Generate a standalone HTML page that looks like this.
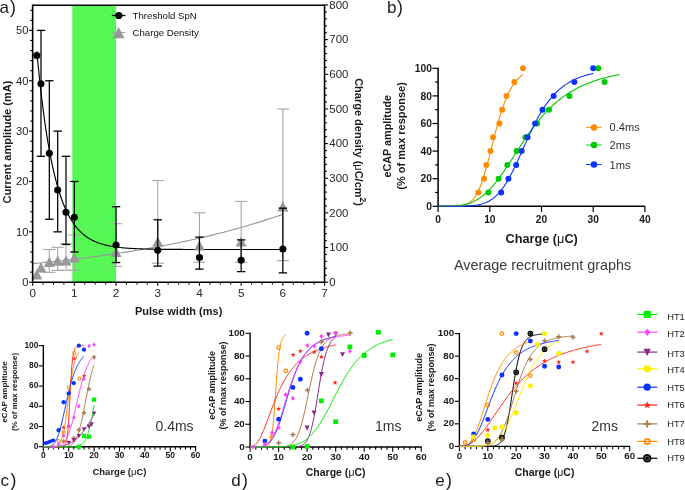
<!DOCTYPE html>
<html><head><meta charset="utf-8"><style>
html,body{margin:0;padding:0;background:#fff;}
svg{display:block;font-family:"Liberation Sans",sans-serif;will-change:transform;}
</style></head><body>
<svg width="685" height="490" viewBox="0 0 685 490">
<rect width="685" height="490" fill="#fff"/>
<rect x="72.3" y="5.3" width="43.75" height="276.9" fill="#55f855"/>
<polyline points="32.65,263.66 35.82,263.35 38.98,263.04 42.15,262.72 45.32,262.4 48.49,262.07 51.65,261.74 54.82,261.4 57.99,261.06 61.15,260.71 64.32,260.35 67.49,259.99 70.66,259.62 73.82,259.24 76.99,258.86 80.16,258.48 83.32,258.08 86.49,257.68 89.66,257.28 92.82,256.86 95.99,256.44 99.16,256.02 102.33,255.58 105.49,255.14 108.66,254.69 111.83,254.24 114.99,253.77 118.16,253.3 121.33,252.82 124.5,252.34 127.66,251.84 130.83,251.34 134,250.83 137.16,250.31 140.33,249.78 143.5,249.24 146.67,248.69 149.83,248.14 153,247.57 156.17,247 159.33,246.41 162.5,245.82 165.67,245.22 168.83,244.61 172,243.98 175.17,243.35 178.34,242.7 181.5,242.05 184.67,241.38 187.84,240.71 191,240.02 194.17,239.32 197.34,238.61 200.51,237.89 203.67,237.15 206.84,236.4 210.01,235.65 213.17,234.87 216.34,234.09 219.51,233.29 222.68,232.48 225.84,231.66 229.01,230.82 232.18,229.97 235.34,229.1 238.51,228.22 241.68,227.33 244.84,226.42 248.01,225.49 251.18,224.55 254.35,223.59 257.51,222.62 260.68,221.64 263.85,220.63 267.01,219.61 270.18,218.57 273.35,217.52 276.52,216.45 279.68,215.36 282.85,214.25" fill="none" stroke="#989898" stroke-width="1.1" stroke-linejoin="round"/>
<polyline points="36.82,51.33 38.37,67.57 39.91,82.49 41.46,96.17 43.01,108.74 44.56,120.28 46.1,130.87 47.65,140.59 49.2,149.52 50.75,157.71 52.29,165.24 53.84,172.14 55.39,178.48 56.94,184.31 58.48,189.65 60.03,194.55 61.58,199.06 63.13,203.19 64.67,206.99 66.22,210.47 67.77,213.67 69.31,216.61 70.86,219.31 72.41,221.78 73.96,224.05 75.5,226.14 77.05,228.05 78.6,229.81 80.15,231.43 81.69,232.91 83.24,234.27 84.79,235.52 86.34,236.66 87.88,237.72 89.43,238.68 90.98,239.57 92.52,240.38 94.07,241.13 95.62,241.82 97.17,242.45 98.71,243.03 100.26,243.56 101.81,244.05 103.36,244.49 104.9,244.9 106.45,245.28 108,245.63 109.55,245.95 111.09,246.24 112.64,246.51 114.19,246.75 115.74,246.98 117.28,247.18 118.83,247.37 120.38,247.55 121.92,247.71 123.47,247.86 125.02,247.99 126.57,248.12 128.11,248.23 129.66,248.33 131.21,248.43 132.76,248.52 134.3,248.6 135.85,248.67 137.4,248.74 138.95,248.8 140.49,248.86 142.04,248.92 143.59,248.96 145.14,249.01 146.68,249.05 148.23,249.09 149.78,249.12 151.32,249.15 152.87,249.18 154.42,249.21 155.97,249.23 157.51,249.25 159.06,249.28 160.61,249.29 162.16,249.31 163.7,249.33 165.25,249.34 166.8,249.36 168.35,249.37 169.89,249.38 171.44,249.39 172.99,249.4 174.53,249.41 176.08,249.42 177.63,249.42 179.18,249.43 180.72,249.44 182.27,249.44 183.82,249.45 185.37,249.45 186.91,249.46 188.46,249.46 190.01,249.46 191.56,249.47 193.1,249.47 194.65,249.47 196.2,249.48 197.75,249.48 199.29,249.48 200.84,249.48 202.39,249.49 203.93,249.49 205.48,249.49 207.03,249.49 208.58,249.49 210.12,249.49 211.67,249.49 213.22,249.49 214.77,249.5 216.31,249.5 217.86,249.5 219.41,249.5 220.96,249.5 222.5,249.5 224.05,249.5 225.6,249.5 227.15,249.5 228.69,249.5 230.24,249.5 231.79,249.5 233.33,249.5 234.88,249.5 236.43,249.5 237.98,249.5 239.52,249.5 241.07,249.5 242.62,249.5 244.17,249.5 245.71,249.5 247.26,249.5 248.81,249.5 250.36,249.5 251.9,249.5 253.45,249.51 255,249.51 256.54,249.51 258.09,249.51 259.64,249.51 261.19,249.51 262.73,249.51 264.28,249.51 265.83,249.51 267.38,249.51 268.92,249.51 270.47,249.51 272.02,249.51 273.57,249.51 275.11,249.51 276.66,249.51 278.21,249.51 279.76,249.51 281.3,249.51 282.85,249.51" fill="none" stroke="#000" stroke-width="1.15" stroke-linejoin="round"/>
<line x1="49.33" y1="249.5" x2="49.33" y2="272.3" stroke="#a6a6a6" stroke-width="1.1"/>
<line x1="43.23" y1="249.5" x2="55.43" y2="249.5" stroke="#a6a6a6" stroke-width="1.1"/>
<line x1="43.23" y1="272.3" x2="55.43" y2="272.3" stroke="#a6a6a6" stroke-width="1.1"/>
<line x1="57.67" y1="247.3" x2="57.67" y2="270.3" stroke="#a6a6a6" stroke-width="1.1"/>
<line x1="51.57" y1="247.3" x2="63.77" y2="247.3" stroke="#a6a6a6" stroke-width="1.1"/>
<line x1="51.57" y1="270.3" x2="63.77" y2="270.3" stroke="#a6a6a6" stroke-width="1.1"/>
<line x1="66.01" y1="243.8" x2="66.01" y2="270.3" stroke="#a6a6a6" stroke-width="1.1"/>
<line x1="59.91" y1="243.8" x2="72.11" y2="243.8" stroke="#a6a6a6" stroke-width="1.1"/>
<line x1="59.91" y1="270.3" x2="72.11" y2="270.3" stroke="#a6a6a6" stroke-width="1.1"/>
<line x1="74.35" y1="234.9" x2="74.35" y2="270.3" stroke="#a6a6a6" stroke-width="1.1"/>
<line x1="68.25" y1="234.9" x2="80.45" y2="234.9" stroke="#a6a6a6" stroke-width="1.1"/>
<line x1="68.25" y1="270.3" x2="80.45" y2="270.3" stroke="#a6a6a6" stroke-width="1.1"/>
<line x1="116.05" y1="223.7" x2="116.05" y2="266.4" stroke="#a6a6a6" stroke-width="1.1"/>
<line x1="109.95" y1="223.7" x2="122.15" y2="223.7" stroke="#a6a6a6" stroke-width="1.1"/>
<line x1="109.95" y1="266.4" x2="122.15" y2="266.4" stroke="#a6a6a6" stroke-width="1.1"/>
<line x1="157.75" y1="180.5" x2="157.75" y2="263.2" stroke="#a6a6a6" stroke-width="1.1"/>
<line x1="151.65" y1="180.5" x2="163.85" y2="180.5" stroke="#a6a6a6" stroke-width="1.1"/>
<line x1="151.65" y1="263.2" x2="163.85" y2="263.2" stroke="#a6a6a6" stroke-width="1.1"/>
<line x1="199.45" y1="212.8" x2="199.45" y2="262.3" stroke="#a6a6a6" stroke-width="1.1"/>
<line x1="193.35" y1="212.8" x2="205.55" y2="212.8" stroke="#a6a6a6" stroke-width="1.1"/>
<line x1="193.35" y1="262.3" x2="205.55" y2="262.3" stroke="#a6a6a6" stroke-width="1.1"/>
<line x1="241.15" y1="201.4" x2="241.15" y2="262.3" stroke="#a6a6a6" stroke-width="1.1"/>
<line x1="235.05" y1="201.4" x2="247.25" y2="201.4" stroke="#a6a6a6" stroke-width="1.1"/>
<line x1="235.05" y1="262.3" x2="247.25" y2="262.3" stroke="#a6a6a6" stroke-width="1.1"/>
<line x1="282.85" y1="109" x2="282.85" y2="260.6" stroke="#a6a6a6" stroke-width="1.1"/>
<line x1="276.75" y1="109" x2="288.95" y2="109" stroke="#a6a6a6" stroke-width="1.1"/>
<line x1="276.75" y1="260.6" x2="288.95" y2="260.6" stroke="#a6a6a6" stroke-width="1.1"/>
<polygon points="36.82,269.19 31.32,279.39 42.32,279.39" fill="#989898"/>
<polygon points="40.99,262.19 35.49,272.39 46.49,272.39" fill="#989898"/>
<polygon points="49.33,256.69 43.83,266.89 54.83,266.89" fill="#989898"/>
<polygon points="57.67,255.49 52.17,265.69 63.17,265.69" fill="#989898"/>
<polygon points="66.01,255.19 60.51,265.39 71.51,265.39" fill="#989898"/>
<polygon points="74.35,252.29 68.85,262.49 79.85,262.49" fill="#989898"/>
<polygon points="116.05,246.89 110.55,257.09 121.55,257.09" fill="#989898"/>
<polygon points="157.75,236.59 152.25,246.79 163.25,246.79" fill="#989898"/>
<polygon points="199.45,240.39 193.95,250.59 204.95,250.59" fill="#989898"/>
<polygon points="241.15,236.39 235.65,246.59 246.65,246.59" fill="#989898"/>
<polygon points="282.85,201.19 277.35,211.39 288.35,211.39" fill="#989898"/>
<line x1="40.99" y1="30.4" x2="40.99" y2="156.3" stroke="#000" stroke-width="1.25"/>
<line x1="36.79" y1="30.4" x2="45.19" y2="30.4" stroke="#000" stroke-width="1.3"/>
<line x1="36.79" y1="156.3" x2="45.19" y2="156.3" stroke="#000" stroke-width="1.3"/>
<line x1="49.33" y1="80.76" x2="49.33" y2="219.25" stroke="#000" stroke-width="1.25"/>
<line x1="45.13" y1="80.76" x2="53.53" y2="80.76" stroke="#000" stroke-width="1.3"/>
<line x1="45.13" y1="219.25" x2="53.53" y2="219.25" stroke="#000" stroke-width="1.3"/>
<line x1="57.67" y1="131.12" x2="57.67" y2="231.84" stroke="#000" stroke-width="1.25"/>
<line x1="53.47" y1="131.12" x2="61.87" y2="131.12" stroke="#000" stroke-width="1.3"/>
<line x1="53.47" y1="231.84" x2="61.87" y2="231.84" stroke="#000" stroke-width="1.3"/>
<line x1="66.01" y1="156.3" x2="66.01" y2="244.43" stroke="#000" stroke-width="1.25"/>
<line x1="61.81" y1="156.3" x2="70.21" y2="156.3" stroke="#000" stroke-width="1.3"/>
<line x1="61.81" y1="244.43" x2="70.21" y2="244.43" stroke="#000" stroke-width="1.3"/>
<line x1="74.35" y1="181.48" x2="74.35" y2="251.98" stroke="#000" stroke-width="1.25"/>
<line x1="70.15" y1="181.48" x2="78.55" y2="181.48" stroke="#000" stroke-width="1.3"/>
<line x1="70.15" y1="251.98" x2="78.55" y2="251.98" stroke="#000" stroke-width="1.3"/>
<line x1="116.05" y1="206.66" x2="116.05" y2="262.56" stroke="#000" stroke-width="1.25"/>
<line x1="111.85" y1="206.66" x2="120.25" y2="206.66" stroke="#000" stroke-width="1.3"/>
<line x1="111.85" y1="262.56" x2="120.25" y2="262.56" stroke="#000" stroke-width="1.3"/>
<line x1="157.75" y1="219.75" x2="157.75" y2="266.08" stroke="#000" stroke-width="1.25"/>
<line x1="153.55" y1="219.75" x2="161.95" y2="219.75" stroke="#000" stroke-width="1.3"/>
<line x1="153.55" y1="266.08" x2="161.95" y2="266.08" stroke="#000" stroke-width="1.3"/>
<line x1="199.45" y1="237.08" x2="199.45" y2="269.11" stroke="#000" stroke-width="1.25"/>
<line x1="195.25" y1="237.08" x2="203.65" y2="237.08" stroke="#000" stroke-width="1.3"/>
<line x1="195.25" y1="269.11" x2="203.65" y2="269.11" stroke="#000" stroke-width="1.3"/>
<line x1="241.15" y1="239.9" x2="241.15" y2="271.62" stroke="#000" stroke-width="1.25"/>
<line x1="236.95" y1="239.9" x2="245.35" y2="239.9" stroke="#000" stroke-width="1.3"/>
<line x1="236.95" y1="271.62" x2="245.35" y2="271.62" stroke="#000" stroke-width="1.3"/>
<line x1="282.85" y1="208.17" x2="282.85" y2="272.88" stroke="#000" stroke-width="1.25"/>
<line x1="278.65" y1="208.17" x2="287.05" y2="208.17" stroke="#000" stroke-width="1.3"/>
<line x1="278.65" y1="272.88" x2="287.05" y2="272.88" stroke="#000" stroke-width="1.3"/>
<circle cx="36.82" cy="55.58" r="3.55" fill="#000" stroke="none" stroke-width="0"/>
<circle cx="40.99" cy="83.78" r="3.55" fill="#000" stroke="none" stroke-width="0"/>
<circle cx="49.33" cy="153.28" r="3.55" fill="#000" stroke="none" stroke-width="0"/>
<circle cx="57.67" cy="190.04" r="3.55" fill="#000" stroke="none" stroke-width="0"/>
<circle cx="66.01" cy="212.2" r="3.55" fill="#000" stroke="none" stroke-width="0"/>
<circle cx="74.35" cy="217.24" r="3.55" fill="#000" stroke="none" stroke-width="0"/>
<circle cx="116.05" cy="244.93" r="3.55" fill="#000" stroke="none" stroke-width="0"/>
<circle cx="157.75" cy="250.22" r="3.55" fill="#000" stroke="none" stroke-width="0"/>
<circle cx="199.45" cy="257.52" r="3.55" fill="#000" stroke="none" stroke-width="0"/>
<circle cx="241.15" cy="260.19" r="3.55" fill="#000" stroke="none" stroke-width="0"/>
<circle cx="282.85" cy="248.96" r="3.55" fill="#000" stroke="none" stroke-width="0"/>
<line x1="32.65" y1="5.3" x2="324.55" y2="5.3" stroke="#000" stroke-width="1.5"/>
<line x1="32.65" y1="4.55" x2="32.65" y2="282.95" stroke="#000" stroke-width="1.6"/>
<line x1="324.55" y1="4.55" x2="324.55" y2="282.95" stroke="#000" stroke-width="1.6"/>
<line x1="32.65" y1="282.2" x2="324.55" y2="282.2" stroke="#000" stroke-width="1.6"/>
<line x1="29.05" y1="282.2" x2="32.65" y2="282.2" stroke="#000" stroke-width="1.1"/>
<line x1="30.25" y1="272.13" x2="32.65" y2="272.13" stroke="#000" stroke-width="1.1"/>
<line x1="30.25" y1="262.06" x2="32.65" y2="262.06" stroke="#000" stroke-width="1.1"/>
<line x1="30.25" y1="251.98" x2="32.65" y2="251.98" stroke="#000" stroke-width="1.1"/>
<line x1="30.25" y1="241.91" x2="32.65" y2="241.91" stroke="#000" stroke-width="1.1"/>
<line x1="29.05" y1="231.84" x2="32.65" y2="231.84" stroke="#000" stroke-width="1.1"/>
<line x1="30.25" y1="221.77" x2="32.65" y2="221.77" stroke="#000" stroke-width="1.1"/>
<line x1="30.25" y1="211.7" x2="32.65" y2="211.7" stroke="#000" stroke-width="1.1"/>
<line x1="30.25" y1="201.62" x2="32.65" y2="201.62" stroke="#000" stroke-width="1.1"/>
<line x1="30.25" y1="191.55" x2="32.65" y2="191.55" stroke="#000" stroke-width="1.1"/>
<line x1="29.05" y1="181.48" x2="32.65" y2="181.48" stroke="#000" stroke-width="1.1"/>
<line x1="30.25" y1="171.41" x2="32.65" y2="171.41" stroke="#000" stroke-width="1.1"/>
<line x1="30.25" y1="161.34" x2="32.65" y2="161.34" stroke="#000" stroke-width="1.1"/>
<line x1="30.25" y1="151.26" x2="32.65" y2="151.26" stroke="#000" stroke-width="1.1"/>
<line x1="30.25" y1="141.19" x2="32.65" y2="141.19" stroke="#000" stroke-width="1.1"/>
<line x1="29.05" y1="131.12" x2="32.65" y2="131.12" stroke="#000" stroke-width="1.1"/>
<line x1="30.25" y1="121.05" x2="32.65" y2="121.05" stroke="#000" stroke-width="1.1"/>
<line x1="30.25" y1="110.98" x2="32.65" y2="110.98" stroke="#000" stroke-width="1.1"/>
<line x1="30.25" y1="100.9" x2="32.65" y2="100.9" stroke="#000" stroke-width="1.1"/>
<line x1="30.25" y1="90.83" x2="32.65" y2="90.83" stroke="#000" stroke-width="1.1"/>
<line x1="29.05" y1="80.76" x2="32.65" y2="80.76" stroke="#000" stroke-width="1.1"/>
<line x1="30.25" y1="70.69" x2="32.65" y2="70.69" stroke="#000" stroke-width="1.1"/>
<line x1="30.25" y1="60.62" x2="32.65" y2="60.62" stroke="#000" stroke-width="1.1"/>
<line x1="30.25" y1="50.54" x2="32.65" y2="50.54" stroke="#000" stroke-width="1.1"/>
<line x1="30.25" y1="40.47" x2="32.65" y2="40.47" stroke="#000" stroke-width="1.1"/>
<line x1="29.05" y1="30.4" x2="32.65" y2="30.4" stroke="#000" stroke-width="1.1"/>
<line x1="30.25" y1="20.33" x2="32.65" y2="20.33" stroke="#000" stroke-width="1.1"/>
<line x1="30.25" y1="10.26" x2="32.65" y2="10.26" stroke="#000" stroke-width="1.1"/>
<text x="28.4" y="286.2" font-size="11.2" text-anchor="end" fill="#262626">0</text>
<text x="28.4" y="235.84" font-size="11.2" text-anchor="end" fill="#262626">10</text>
<text x="28.4" y="185.48" font-size="11.2" text-anchor="end" fill="#262626">20</text>
<text x="28.4" y="135.12" font-size="11.2" text-anchor="end" fill="#262626">30</text>
<text x="28.4" y="84.76" font-size="11.2" text-anchor="end" fill="#262626">40</text>
<text x="28.4" y="34.4" font-size="11.2" text-anchor="end" fill="#262626">50</text>
<line x1="324.55" y1="282.2" x2="328.15" y2="282.2" stroke="#000" stroke-width="1.1"/>
<line x1="324.55" y1="275.27" x2="326.95" y2="275.27" stroke="#000" stroke-width="1.1"/>
<line x1="324.55" y1="268.34" x2="326.95" y2="268.34" stroke="#000" stroke-width="1.1"/>
<line x1="324.55" y1="261.41" x2="326.95" y2="261.41" stroke="#000" stroke-width="1.1"/>
<line x1="324.55" y1="254.48" x2="326.95" y2="254.48" stroke="#000" stroke-width="1.1"/>
<line x1="324.55" y1="247.55" x2="328.15" y2="247.55" stroke="#000" stroke-width="1.1"/>
<line x1="324.55" y1="240.62" x2="326.95" y2="240.62" stroke="#000" stroke-width="1.1"/>
<line x1="324.55" y1="233.69" x2="326.95" y2="233.69" stroke="#000" stroke-width="1.1"/>
<line x1="324.55" y1="226.76" x2="326.95" y2="226.76" stroke="#000" stroke-width="1.1"/>
<line x1="324.55" y1="219.83" x2="326.95" y2="219.83" stroke="#000" stroke-width="1.1"/>
<line x1="324.55" y1="212.9" x2="328.15" y2="212.9" stroke="#000" stroke-width="1.1"/>
<line x1="324.55" y1="205.97" x2="326.95" y2="205.97" stroke="#000" stroke-width="1.1"/>
<line x1="324.55" y1="199.04" x2="326.95" y2="199.04" stroke="#000" stroke-width="1.1"/>
<line x1="324.55" y1="192.11" x2="326.95" y2="192.11" stroke="#000" stroke-width="1.1"/>
<line x1="324.55" y1="185.18" x2="326.95" y2="185.18" stroke="#000" stroke-width="1.1"/>
<line x1="324.55" y1="178.25" x2="328.15" y2="178.25" stroke="#000" stroke-width="1.1"/>
<line x1="324.55" y1="171.32" x2="326.95" y2="171.32" stroke="#000" stroke-width="1.1"/>
<line x1="324.55" y1="164.39" x2="326.95" y2="164.39" stroke="#000" stroke-width="1.1"/>
<line x1="324.55" y1="157.46" x2="326.95" y2="157.46" stroke="#000" stroke-width="1.1"/>
<line x1="324.55" y1="150.53" x2="326.95" y2="150.53" stroke="#000" stroke-width="1.1"/>
<line x1="324.55" y1="143.6" x2="328.15" y2="143.6" stroke="#000" stroke-width="1.1"/>
<line x1="324.55" y1="136.67" x2="326.95" y2="136.67" stroke="#000" stroke-width="1.1"/>
<line x1="324.55" y1="129.74" x2="326.95" y2="129.74" stroke="#000" stroke-width="1.1"/>
<line x1="324.55" y1="122.81" x2="326.95" y2="122.81" stroke="#000" stroke-width="1.1"/>
<line x1="324.55" y1="115.88" x2="326.95" y2="115.88" stroke="#000" stroke-width="1.1"/>
<line x1="324.55" y1="108.95" x2="328.15" y2="108.95" stroke="#000" stroke-width="1.1"/>
<line x1="324.55" y1="102.02" x2="326.95" y2="102.02" stroke="#000" stroke-width="1.1"/>
<line x1="324.55" y1="95.09" x2="326.95" y2="95.09" stroke="#000" stroke-width="1.1"/>
<line x1="324.55" y1="88.16" x2="326.95" y2="88.16" stroke="#000" stroke-width="1.1"/>
<line x1="324.55" y1="81.23" x2="326.95" y2="81.23" stroke="#000" stroke-width="1.1"/>
<line x1="324.55" y1="74.3" x2="328.15" y2="74.3" stroke="#000" stroke-width="1.1"/>
<line x1="324.55" y1="67.37" x2="326.95" y2="67.37" stroke="#000" stroke-width="1.1"/>
<line x1="324.55" y1="60.44" x2="326.95" y2="60.44" stroke="#000" stroke-width="1.1"/>
<line x1="324.55" y1="53.51" x2="326.95" y2="53.51" stroke="#000" stroke-width="1.1"/>
<line x1="324.55" y1="46.58" x2="326.95" y2="46.58" stroke="#000" stroke-width="1.1"/>
<line x1="324.55" y1="39.65" x2="328.15" y2="39.65" stroke="#000" stroke-width="1.1"/>
<line x1="324.55" y1="32.72" x2="326.95" y2="32.72" stroke="#000" stroke-width="1.1"/>
<line x1="324.55" y1="25.79" x2="326.95" y2="25.79" stroke="#000" stroke-width="1.1"/>
<line x1="324.55" y1="18.86" x2="326.95" y2="18.86" stroke="#000" stroke-width="1.1"/>
<line x1="324.55" y1="11.93" x2="326.95" y2="11.93" stroke="#000" stroke-width="1.1"/>
<line x1="324.55" y1="5" x2="328.15" y2="5" stroke="#000" stroke-width="1.1"/>
<text x="329.3" y="285.9" font-size="11.4" text-anchor="start" fill="#262626">0</text>
<text x="329.3" y="251.25" font-size="11.4" text-anchor="start" fill="#262626">100</text>
<text x="329.3" y="216.6" font-size="11.4" text-anchor="start" fill="#262626">200</text>
<text x="329.3" y="181.95" font-size="11.4" text-anchor="start" fill="#262626">300</text>
<text x="329.3" y="147.3" font-size="11.4" text-anchor="start" fill="#262626">400</text>
<text x="329.3" y="112.65" font-size="11.4" text-anchor="start" fill="#262626">500</text>
<text x="329.3" y="78" font-size="11.4" text-anchor="start" fill="#262626">600</text>
<text x="329.3" y="43.35" font-size="11.4" text-anchor="start" fill="#262626">700</text>
<text x="329.3" y="8.7" font-size="11.4" text-anchor="start" fill="#262626">800</text>
<line x1="32.65" y1="282.2" x2="32.65" y2="285.8" stroke="#000" stroke-width="1.1"/>
<line x1="43.08" y1="282.2" x2="43.08" y2="284.6" stroke="#000" stroke-width="1.1"/>
<line x1="53.5" y1="282.2" x2="53.5" y2="284.6" stroke="#000" stroke-width="1.1"/>
<line x1="63.92" y1="282.2" x2="63.92" y2="284.6" stroke="#000" stroke-width="1.1"/>
<line x1="74.35" y1="282.2" x2="74.35" y2="285.8" stroke="#000" stroke-width="1.1"/>
<line x1="84.78" y1="282.2" x2="84.78" y2="284.6" stroke="#000" stroke-width="1.1"/>
<line x1="95.2" y1="282.2" x2="95.2" y2="284.6" stroke="#000" stroke-width="1.1"/>
<line x1="105.62" y1="282.2" x2="105.62" y2="284.6" stroke="#000" stroke-width="1.1"/>
<line x1="116.05" y1="282.2" x2="116.05" y2="285.8" stroke="#000" stroke-width="1.1"/>
<line x1="126.47" y1="282.2" x2="126.47" y2="284.6" stroke="#000" stroke-width="1.1"/>
<line x1="136.9" y1="282.2" x2="136.9" y2="284.6" stroke="#000" stroke-width="1.1"/>
<line x1="147.33" y1="282.2" x2="147.33" y2="284.6" stroke="#000" stroke-width="1.1"/>
<line x1="157.75" y1="282.2" x2="157.75" y2="285.8" stroke="#000" stroke-width="1.1"/>
<line x1="168.18" y1="282.2" x2="168.18" y2="284.6" stroke="#000" stroke-width="1.1"/>
<line x1="178.6" y1="282.2" x2="178.6" y2="284.6" stroke="#000" stroke-width="1.1"/>
<line x1="189.03" y1="282.2" x2="189.03" y2="284.6" stroke="#000" stroke-width="1.1"/>
<line x1="199.45" y1="282.2" x2="199.45" y2="285.8" stroke="#000" stroke-width="1.1"/>
<line x1="209.88" y1="282.2" x2="209.88" y2="284.6" stroke="#000" stroke-width="1.1"/>
<line x1="220.3" y1="282.2" x2="220.3" y2="284.6" stroke="#000" stroke-width="1.1"/>
<line x1="230.73" y1="282.2" x2="230.73" y2="284.6" stroke="#000" stroke-width="1.1"/>
<line x1="241.15" y1="282.2" x2="241.15" y2="285.8" stroke="#000" stroke-width="1.1"/>
<line x1="251.58" y1="282.2" x2="251.58" y2="284.6" stroke="#000" stroke-width="1.1"/>
<line x1="262" y1="282.2" x2="262" y2="284.6" stroke="#000" stroke-width="1.1"/>
<line x1="272.43" y1="282.2" x2="272.43" y2="284.6" stroke="#000" stroke-width="1.1"/>
<line x1="282.85" y1="282.2" x2="282.85" y2="285.8" stroke="#000" stroke-width="1.1"/>
<line x1="293.27" y1="282.2" x2="293.27" y2="284.6" stroke="#000" stroke-width="1.1"/>
<line x1="303.7" y1="282.2" x2="303.7" y2="284.6" stroke="#000" stroke-width="1.1"/>
<line x1="314.12" y1="282.2" x2="314.12" y2="284.6" stroke="#000" stroke-width="1.1"/>
<line x1="324.55" y1="282.2" x2="324.55" y2="285.8" stroke="#000" stroke-width="1.1"/>
<text x="32.65" y="296.7" font-size="11.7" text-anchor="middle" fill="#262626">0</text>
<text x="74.35" y="296.7" font-size="11.7" text-anchor="middle" fill="#262626">1</text>
<text x="116.05" y="296.7" font-size="11.7" text-anchor="middle" fill="#262626">2</text>
<text x="157.75" y="296.7" font-size="11.7" text-anchor="middle" fill="#262626">3</text>
<text x="199.45" y="296.7" font-size="11.7" text-anchor="middle" fill="#262626">4</text>
<text x="241.15" y="296.7" font-size="11.7" text-anchor="middle" fill="#262626">5</text>
<text x="282.85" y="296.7" font-size="11.7" text-anchor="middle" fill="#262626">6</text>
<text x="324.55" y="296.7" font-size="11.7" text-anchor="middle" fill="#262626">7</text>
<text x="178.6" y="314.8" font-size="11" text-anchor="middle" font-weight="bold" fill="#1a1a1a">Pulse width (ms)</text>
<text x="10.9" y="142.1" font-size="11" text-anchor="middle" font-weight="bold" fill="#1a1a1a" transform="rotate(-90 10.9 142.1)">Current amplitude (mA)</text>
<text x="355.3" y="142.1" font-size="11" text-anchor="middle" font-weight="bold" fill="#1a1a1a" transform="rotate(90 355.3 142.1)">Charge density (<tspan font-weight="normal">μ</tspan>C/cm<tspan font-size="8.6" dy="-4.2">2</tspan><tspan dy="4.2">)</tspan></text>
<text x="-0.5" y="12.9" font-size="17" text-anchor="start" fill="#1a1a1a">a<tspan dx="1.1" font-size="17.8">)</tspan></text>
<line x1="111.8" y1="15.5" x2="125.3" y2="15.5" stroke="#000" stroke-width="1.3"/>
<circle cx="118.8" cy="15.5" r="3.6" fill="#000" stroke="none" stroke-width="0"/>
<line x1="112" y1="32.5" x2="125.3" y2="32.5" stroke="#a6a6a6" stroke-width="1.1"/>
<polygon points="118.6,26.93 112.6,38.33 124.6,38.33" fill="#989898"/>
<text x="132.6" y="19" font-size="9.65" text-anchor="start" fill="#111">Threshold SpN</text>
<text x="132.6" y="36.1" font-size="9.6" text-anchor="start" fill="#111">Charge Density</text>
<line x1="438.1" y1="67.7" x2="438.1" y2="206.9" stroke="#000" stroke-width="1.5"/>
<line x1="438.1" y1="206.3" x2="644.9" y2="206.3" stroke="#000" stroke-width="1.5"/>
<line x1="432.5" y1="206.3" x2="438.1" y2="206.3" stroke="#000" stroke-width="1.2"/>
<line x1="435.1" y1="192.5" x2="438.1" y2="192.5" stroke="#000" stroke-width="1.2"/>
<line x1="432.5" y1="178.7" x2="438.1" y2="178.7" stroke="#000" stroke-width="1.2"/>
<line x1="435.1" y1="164.9" x2="438.1" y2="164.9" stroke="#000" stroke-width="1.2"/>
<line x1="432.5" y1="151.1" x2="438.1" y2="151.1" stroke="#000" stroke-width="1.2"/>
<line x1="435.1" y1="137.3" x2="438.1" y2="137.3" stroke="#000" stroke-width="1.2"/>
<line x1="432.5" y1="123.5" x2="438.1" y2="123.5" stroke="#000" stroke-width="1.2"/>
<line x1="435.1" y1="109.7" x2="438.1" y2="109.7" stroke="#000" stroke-width="1.2"/>
<line x1="432.5" y1="95.9" x2="438.1" y2="95.9" stroke="#000" stroke-width="1.2"/>
<line x1="435.1" y1="82.1" x2="438.1" y2="82.1" stroke="#000" stroke-width="1.2"/>
<line x1="432.5" y1="68.3" x2="438.1" y2="68.3" stroke="#000" stroke-width="1.2"/>
<text x="432" y="210" font-size="10.3" text-anchor="end" font-weight="bold" fill="#1a1a1a">0</text>
<text x="432" y="182.4" font-size="10.3" text-anchor="end" font-weight="bold" fill="#1a1a1a">20</text>
<text x="432" y="154.8" font-size="10.3" text-anchor="end" font-weight="bold" fill="#1a1a1a">40</text>
<text x="432" y="127.2" font-size="10.3" text-anchor="end" font-weight="bold" fill="#1a1a1a">60</text>
<text x="432" y="99.6" font-size="10.3" text-anchor="end" font-weight="bold" fill="#1a1a1a">80</text>
<text x="432" y="72" font-size="10.3" text-anchor="end" font-weight="bold" fill="#1a1a1a">100</text>
<line x1="438.1" y1="206.3" x2="438.1" y2="211.9" stroke="#000" stroke-width="1.2"/>
<line x1="489.8" y1="206.3" x2="489.8" y2="211.9" stroke="#000" stroke-width="1.2"/>
<line x1="541.5" y1="206.3" x2="541.5" y2="211.9" stroke="#000" stroke-width="1.2"/>
<line x1="593.2" y1="206.3" x2="593.2" y2="211.9" stroke="#000" stroke-width="1.2"/>
<line x1="644.9" y1="206.3" x2="644.9" y2="211.9" stroke="#000" stroke-width="1.2"/>
<text x="438.1" y="222.6" font-size="10.2" text-anchor="middle" font-weight="bold" fill="#1a1a1a">0</text>
<text x="489.8" y="222.6" font-size="10.2" text-anchor="middle" font-weight="bold" fill="#1a1a1a">10</text>
<text x="541.5" y="222.6" font-size="10.2" text-anchor="middle" font-weight="bold" fill="#1a1a1a">20</text>
<text x="593.2" y="222.6" font-size="10.2" text-anchor="middle" font-weight="bold" fill="#1a1a1a">30</text>
<text x="644.9" y="222.6" font-size="10.2" text-anchor="middle" font-weight="bold" fill="#1a1a1a">40</text>
<polyline points="438.11,206.3 438.53,206.3 438.96,206.3 439.38,206.3 439.81,206.3 440.24,206.3 440.66,206.3 441.09,206.3 441.52,206.3 441.94,206.3 442.37,206.3 442.8,206.3 443.22,206.3 443.65,206.3 444.08,206.3 444.5,206.3 444.93,206.3 445.36,206.3 445.78,206.3 446.21,206.3 446.64,206.3 447.06,206.3 447.49,206.3 447.92,206.3 448.34,206.3 448.77,206.3 449.2,206.29 449.62,206.29 450.05,206.29 450.48,206.29 450.9,206.28 451.33,206.28 451.76,206.28 452.18,206.27 452.61,206.27 453.03,206.26 453.46,206.25 453.89,206.24 454.31,206.23 454.74,206.22 455.17,206.21 455.59,206.2 456.02,206.18 456.45,206.16 456.87,206.14 457.3,206.12 457.73,206.09 458.15,206.06 458.58,206.03 459.01,205.99 459.43,205.95 459.86,205.9 460.29,205.85 460.71,205.8 461.14,205.74 461.57,205.67 461.99,205.6 462.42,205.52 462.85,205.43 463.27,205.33 463.7,205.23 464.13,205.12 464.55,204.99 464.98,204.86 465.41,204.71 465.83,204.56 466.26,204.39 466.68,204.21 467.11,204.01 467.54,203.8 467.96,203.57 468.39,203.33 468.82,203.07 469.24,202.79 469.67,202.49 470.1,202.17 470.52,201.83 470.95,201.47 471.38,201.09 471.8,200.68 472.23,200.25 472.66,199.79 473.08,199.3 473.51,198.79 473.94,198.25 474.36,197.68 474.79,197.08 475.22,196.45 475.64,195.78 476.07,195.08 476.5,194.35 476.92,193.59 477.35,192.79 477.78,191.95 478.2,191.08 478.63,190.18 479.06,189.23 479.48,188.25 479.91,187.23 480.34,186.18 480.76,185.09 481.19,183.96 481.61,182.79 482.04,181.59 482.47,180.35 482.89,179.08 483.32,177.78 483.75,176.44 484.17,175.06 484.6,173.66 485.03,172.22 485.45,170.76 485.88,169.26 486.31,167.75 486.73,166.2 487.16,164.64 487.59,163.05 488.01,161.44 488.44,159.81 488.87,158.17 489.29,156.52 489.72,154.85 490.15,153.17 490.57,151.49 491,149.79 491.43,148.1 491.85,146.4 492.28,144.7 492.71,143.01 493.13,141.32 493.56,139.63 493.99,137.95 494.41,136.28 494.84,134.62 495.26,132.98 495.69,131.35 496.12,129.73 496.54,128.13 496.97,126.55 497.4,124.99 497.82,123.45 498.25,121.93 498.68,120.44 499.1,118.96 499.53,117.51 499.96,116.09 500.38,114.69 500.81,113.32 501.24,111.97 501.66,110.65 502.09,109.36 502.52,108.09 502.94,106.85 503.37,105.64 503.8,104.46 504.22,103.3 504.65,102.17 505.08,101.07 505.5,100 505.93,98.95 506.36,97.93 506.78,96.93 507.21,95.96 507.64,95.02 508.06,94.1 508.49,93.21 508.91,92.34 509.34,91.5 509.77,90.67 510.19,89.88 510.62,89.1 511.05,88.35 511.47,87.61 511.9,86.9 512.33,86.21 512.75,85.54 513.18,84.89 513.61,84.26 514.03,83.65 514.46,83.06 514.89,82.48 515.31,81.92 515.74,81.38 516.17,80.85 516.59,80.34 517.02,79.85 517.45,79.37 517.87,78.91 518.3,78.46 518.73,78.02 519.15,77.6 519.58,77.19 520.01,76.79 520.43,76.41 520.86,76.03 521.29,75.67 521.71,75.32 522.14,74.98 522.56,74.65 522.99,74.33" fill="none" stroke="#ff8c00" stroke-width="1.1" stroke-linejoin="round"/>
<polyline points="438.11,206.3 439.02,206.3 439.93,206.3 440.84,206.3 441.75,206.3 442.66,206.3 443.58,206.29 444.49,206.29 445.4,206.28 446.31,206.28 447.22,206.26 448.14,206.25 449.05,206.23 449.96,206.21 450.87,206.18 451.78,206.14 452.7,206.1 453.61,206.05 454.52,206 455.43,205.93 456.34,205.86 457.25,205.77 458.17,205.68 459.08,205.57 459.99,205.45 460.9,205.31 461.81,205.16 462.73,205 463.64,204.81 464.55,204.61 465.46,204.4 466.37,204.16 467.28,203.9 468.2,203.62 469.11,203.32 470.02,203 470.93,202.66 471.84,202.29 472.76,201.89 473.67,201.47 474.58,201.02 475.49,200.55 476.4,200.05 477.32,199.52 478.23,198.96 479.14,198.37 480.05,197.75 480.96,197.1 481.87,196.42 482.79,195.71 483.7,194.97 484.61,194.2 485.52,193.39 486.43,192.56 487.35,191.69 488.26,190.8 489.17,189.87 490.08,188.92 490.99,187.93 491.91,186.92 492.82,185.87 493.73,184.8 494.64,183.7 495.55,182.58 496.46,181.43 497.38,180.25 498.29,179.05 499.2,177.83 500.11,176.59 501.02,175.33 501.94,174.04 502.85,172.74 503.76,171.42 504.67,170.09 505.58,168.74 506.5,167.38 507.41,166.01 508.32,164.63 509.23,163.24 510.14,161.84 511.05,160.43 511.97,159.02 512.88,157.61 513.79,156.19 514.7,154.78 515.61,153.36 516.53,151.94 517.44,150.53 518.35,149.12 519.26,147.72 520.17,146.32 521.09,144.92 522,143.54 522.91,142.16 523.82,140.8 524.73,139.44 525.64,138.1 526.56,136.76 527.47,135.44 528.38,134.14 529.29,132.84 530.2,131.57 531.12,130.3 532.03,129.06 532.94,127.82 533.85,126.61 534.76,125.41 535.68,124.23 536.59,123.06 537.5,121.92 538.41,120.79 539.32,119.67 540.23,118.58 541.15,117.5 542.06,116.45 542.97,115.41 543.88,114.38 544.79,113.38 545.71,112.4 546.62,111.43 547.53,110.48 548.44,109.55 549.35,108.63 550.26,107.74 551.18,106.86 552.09,105.99 553,105.15 553.91,104.32 554.82,103.51 555.74,102.72 556.65,101.94 557.56,101.17 558.47,100.43 559.38,99.7 560.3,98.98 561.21,98.28 562.12,97.6 563.03,96.92 563.94,96.27 564.85,95.62 565.77,95 566.68,94.38 567.59,93.78 568.5,93.19 569.41,92.61 570.33,92.05 571.24,91.5 572.15,90.96 573.06,90.43 573.97,89.92 574.89,89.42 575.8,88.92 576.71,88.44 577.62,87.97 578.53,87.51 579.44,87.06 580.36,86.62 581.27,86.19 582.18,85.77 583.09,85.35 584,84.95 584.92,84.56 585.83,84.17 586.74,83.79 587.65,83.43 588.56,83.07 589.48,82.71 590.39,82.37 591.3,82.03 592.21,81.7 593.12,81.38 594.03,81.06 594.95,80.76 595.86,80.45 596.77,80.16 597.68,79.87 598.59,79.59 599.51,79.31 600.42,79.04 601.33,78.78 602.24,78.52 603.15,78.26 604.07,78.02 604.98,77.77 605.89,77.54 606.8,77.3 607.71,77.08 608.62,76.85 609.54,76.63 610.45,76.42 611.36,76.21 612.27,76.01 613.18,75.81 614.1,75.61 615.01,75.42 615.92,75.23 616.83,75.05 617.74,74.87 618.66,74.69 619.57,74.52" fill="none" stroke="#00c800" stroke-width="1.1" stroke-linejoin="round"/>
<polyline points="438.11,206.3 438.88,206.3 439.66,206.3 440.44,206.3 441.22,206.3 442,206.3 442.78,206.3 443.56,206.3 444.34,206.3 445.12,206.3 445.9,206.3 446.68,206.3 447.46,206.3 448.24,206.3 449.02,206.3 449.8,206.3 450.58,206.3 451.35,206.3 452.13,206.3 452.91,206.29 453.69,206.29 454.47,206.29 455.25,206.29 456.03,206.29 456.81,206.28 457.59,206.28 458.37,206.27 459.15,206.26 459.93,206.26 460.71,206.25 461.49,206.23 462.27,206.22 463.05,206.2 463.82,206.19 464.6,206.17 465.38,206.14 466.16,206.11 466.94,206.08 467.72,206.05 468.5,206.01 469.28,205.96 470.06,205.91 470.84,205.86 471.62,205.79 472.4,205.72 473.18,205.65 473.96,205.56 474.74,205.46 475.51,205.36 476.29,205.24 477.07,205.12 477.85,204.98 478.63,204.83 479.41,204.66 480.19,204.48 480.97,204.29 481.75,204.07 482.53,203.84 483.31,203.59 484.09,203.32 484.87,203.03 485.65,202.72 486.43,202.39 487.21,202.03 487.98,201.64 488.76,201.23 489.54,200.79 490.32,200.33 491.1,199.83 491.88,199.3 492.66,198.74 493.44,198.14 494.22,197.51 495,196.85 495.78,196.15 496.56,195.41 497.34,194.63 498.12,193.82 498.9,192.96 499.68,192.07 500.45,191.13 501.23,190.16 502.01,189.14 502.79,188.08 503.57,186.98 504.35,185.84 505.13,184.66 505.91,183.44 506.69,182.18 507.47,180.88 508.25,179.54 509.03,178.16 509.81,176.75 510.59,175.3 511.37,173.82 512.15,172.31 512.92,170.76 513.7,169.19 514.48,167.59 515.26,165.96 516.04,164.32 516.82,162.65 517.6,160.96 518.38,159.26 519.16,157.55 519.94,155.82 520.72,154.08 521.5,152.34 522.28,150.59 523.06,148.84 523.84,147.09 524.62,145.34 525.39,143.6 526.17,141.87 526.95,140.14 527.73,138.43 528.51,136.72 529.29,135.03 530.07,133.36 530.85,131.71 531.63,130.08 532.41,128.46 533.19,126.87 533.97,125.3 534.75,123.76 535.53,122.24 536.31,120.75 537.09,119.29 537.86,117.85 538.64,116.44 539.42,115.06 540.2,113.71 540.98,112.39 541.76,111.09 542.54,109.83 543.32,108.6 544.1,107.4 544.88,106.22 545.66,105.08 546.44,103.96 547.22,102.88 548,101.82 548.78,100.79 549.56,99.79 550.33,98.82 551.11,97.87 551.89,96.95 552.67,96.06 553.45,95.19 554.23,94.35 555.01,93.53 555.79,92.74 556.57,91.97 557.35,91.23 558.13,90.5 558.91,89.8 559.69,89.12 560.47,88.46 561.25,87.82 562.03,87.21 562.8,86.61 563.58,86.03 564.36,85.46 565.14,84.92 565.92,84.39 566.7,83.88 567.48,83.38 568.26,82.9 569.04,82.44 569.82,81.99 570.6,81.56 571.38,81.13 572.16,80.73 572.94,80.33 573.72,79.95 574.5,79.58 575.27,79.22 576.05,78.87 576.83,78.54 577.61,78.21 578.39,77.9 579.17,77.59 579.95,77.3 580.73,77.01 581.51,76.73 582.29,76.47 583.07,76.21 583.85,75.95 584.63,75.71 585.41,75.47 586.19,75.24 586.97,75.02 587.74,74.81 588.52,74.6 589.3,74.4 590.08,74.2 590.86,74.01 591.64,73.83 592.42,73.65 593.2,73.48" fill="none" stroke="#0a32ff" stroke-width="1.1" stroke-linejoin="round"/>
<circle cx="478.32" cy="192.5" r="3" fill="#ff8c00" stroke="none" stroke-width="0"/>
<circle cx="484.01" cy="178.7" r="3" fill="#ff8c00" stroke="none" stroke-width="0"/>
<circle cx="486.39" cy="164.9" r="3" fill="#ff8c00" stroke="none" stroke-width="0"/>
<circle cx="490.52" cy="151.1" r="3" fill="#ff8c00" stroke="none" stroke-width="0"/>
<circle cx="493.01" cy="137.3" r="3" fill="#ff8c00" stroke="none" stroke-width="0"/>
<circle cx="499.42" cy="123.5" r="3" fill="#ff8c00" stroke="none" stroke-width="0"/>
<circle cx="502.21" cy="109.7" r="3" fill="#ff8c00" stroke="none" stroke-width="0"/>
<circle cx="506.5" cy="95.9" r="3" fill="#ff8c00" stroke="none" stroke-width="0"/>
<circle cx="514.41" cy="82.1" r="3" fill="#ff8c00" stroke="none" stroke-width="0"/>
<circle cx="522.99" cy="68.3" r="3" fill="#ff8c00" stroke="none" stroke-width="0"/>
<circle cx="488.4" cy="192.5" r="3" fill="#00c800" stroke="none" stroke-width="0"/>
<circle cx="498.59" cy="178.7" r="3" fill="#00c800" stroke="none" stroke-width="0"/>
<circle cx="507.38" cy="164.9" r="3" fill="#00c800" stroke="none" stroke-width="0"/>
<circle cx="516.68" cy="151.1" r="3" fill="#00c800" stroke="none" stroke-width="0"/>
<circle cx="525.47" cy="137.3" r="3" fill="#00c800" stroke="none" stroke-width="0"/>
<circle cx="537.11" cy="123.5" r="3" fill="#00c800" stroke="none" stroke-width="0"/>
<circle cx="549" cy="109.7" r="3" fill="#00c800" stroke="none" stroke-width="0"/>
<circle cx="569.42" cy="95.9" r="3" fill="#00c800" stroke="none" stroke-width="0"/>
<circle cx="604.57" cy="82.1" r="3" fill="#00c800" stroke="none" stroke-width="0"/>
<circle cx="598.37" cy="68.3" r="3" fill="#00c800" stroke="none" stroke-width="0"/>
<circle cx="501.17" cy="192.5" r="3" fill="#0a32ff" stroke="none" stroke-width="0"/>
<circle cx="508.41" cy="178.7" r="3" fill="#0a32ff" stroke="none" stroke-width="0"/>
<circle cx="516.17" cy="164.9" r="3" fill="#0a32ff" stroke="none" stroke-width="0"/>
<circle cx="521.6" cy="151.1" r="3" fill="#0a32ff" stroke="none" stroke-width="0"/>
<circle cx="527.54" cy="137.3" r="3" fill="#0a32ff" stroke="none" stroke-width="0"/>
<circle cx="535.09" cy="123.5" r="3" fill="#0a32ff" stroke="none" stroke-width="0"/>
<circle cx="542.53" cy="109.7" r="3" fill="#0a32ff" stroke="none" stroke-width="0"/>
<circle cx="553.7" cy="95.9" r="3" fill="#0a32ff" stroke="none" stroke-width="0"/>
<circle cx="574.38" cy="82.1" r="3" fill="#0a32ff" stroke="none" stroke-width="0"/>
<circle cx="593.2" cy="68.3" r="3" fill="#0a32ff" stroke="none" stroke-width="0"/>
<text x="541.7" y="242.7" font-size="12.7" text-anchor="middle" font-weight="bold" fill="#1a1a1a">Charge (<tspan font-weight="normal">μ</tspan>C)</text>
<text x="391.3" y="136.2" font-size="10.8" text-anchor="middle" font-weight="bold" fill="#1a1a1a" transform="rotate(-90 391.3 136.2)">eCAP amplitude</text>
<text x="405.5" y="135.9" font-size="11" text-anchor="middle" font-weight="bold" fill="#1a1a1a" transform="rotate(-90 405.5 135.9)">(% of max response)</text>
<text x="387" y="12.9" font-size="17" text-anchor="start" fill="#1a1a1a">b<tspan dx="0.5" font-size="17.8">)</tspan></text>
<text x="453.9" y="269.7" font-size="14.4" text-anchor="start" fill="#3a3a3a">Average recruitment graphs</text>
<line x1="586" y1="127.4" x2="601.7" y2="127.4" stroke="#ff8c00" stroke-width="1"/>
<circle cx="594" cy="127.4" r="3.25" fill="#ff8c00" stroke="none" stroke-width="0"/>
<text x="609.6" y="131.4" font-size="11.1" text-anchor="start" fill="#333">0.4ms</text>
<line x1="586" y1="145" x2="601.7" y2="145" stroke="#00c800" stroke-width="1"/>
<circle cx="594" cy="145" r="3.25" fill="#00c800" stroke="none" stroke-width="0"/>
<text x="609.6" y="149" font-size="11.1" text-anchor="start" fill="#333">2ms</text>
<line x1="586" y1="164.6" x2="601.7" y2="164.6" stroke="#0a32ff" stroke-width="1"/>
<circle cx="594" cy="164.6" r="3.25" fill="#0a32ff" stroke="none" stroke-width="0"/>
<text x="609.6" y="168.6" font-size="11.1" text-anchor="start" fill="#333">1ms</text>
<line x1="43.35" y1="345.05" x2="43.35" y2="447.35" stroke="#000" stroke-width="1.4"/>
<line x1="43.35" y1="446.75" x2="196.13" y2="446.75" stroke="#000" stroke-width="1.4"/>
<line x1="38.75" y1="446.75" x2="43.35" y2="446.75" stroke="#000" stroke-width="1.1"/>
<line x1="38.75" y1="426.53" x2="43.35" y2="426.53" stroke="#000" stroke-width="1.1"/>
<line x1="38.75" y1="406.31" x2="43.35" y2="406.31" stroke="#000" stroke-width="1.1"/>
<line x1="38.75" y1="386.09" x2="43.35" y2="386.09" stroke="#000" stroke-width="1.1"/>
<line x1="38.75" y1="365.87" x2="43.35" y2="365.87" stroke="#000" stroke-width="1.1"/>
<line x1="38.75" y1="345.65" x2="43.35" y2="345.65" stroke="#000" stroke-width="1.1"/>
<line x1="43.35" y1="446.75" x2="43.35" y2="451.55" stroke="#000" stroke-width="1.1"/>
<line x1="48.43" y1="446.75" x2="48.43" y2="449.55" stroke="#000" stroke-width="1.1"/>
<line x1="53.5" y1="446.75" x2="53.5" y2="449.55" stroke="#000" stroke-width="1.1"/>
<line x1="58.58" y1="446.75" x2="58.58" y2="449.55" stroke="#000" stroke-width="1.1"/>
<line x1="63.65" y1="446.75" x2="63.65" y2="449.55" stroke="#000" stroke-width="1.1"/>
<line x1="68.73" y1="446.75" x2="68.73" y2="451.55" stroke="#000" stroke-width="1.1"/>
<line x1="73.81" y1="446.75" x2="73.81" y2="449.55" stroke="#000" stroke-width="1.1"/>
<line x1="78.88" y1="446.75" x2="78.88" y2="449.55" stroke="#000" stroke-width="1.1"/>
<line x1="83.96" y1="446.75" x2="83.96" y2="449.55" stroke="#000" stroke-width="1.1"/>
<line x1="89.03" y1="446.75" x2="89.03" y2="449.55" stroke="#000" stroke-width="1.1"/>
<line x1="94.11" y1="446.75" x2="94.11" y2="451.55" stroke="#000" stroke-width="1.1"/>
<line x1="99.19" y1="446.75" x2="99.19" y2="449.55" stroke="#000" stroke-width="1.1"/>
<line x1="104.26" y1="446.75" x2="104.26" y2="449.55" stroke="#000" stroke-width="1.1"/>
<line x1="109.34" y1="446.75" x2="109.34" y2="449.55" stroke="#000" stroke-width="1.1"/>
<line x1="114.41" y1="446.75" x2="114.41" y2="449.55" stroke="#000" stroke-width="1.1"/>
<line x1="119.49" y1="446.75" x2="119.49" y2="451.55" stroke="#000" stroke-width="1.1"/>
<line x1="124.57" y1="446.75" x2="124.57" y2="449.55" stroke="#000" stroke-width="1.1"/>
<line x1="129.64" y1="446.75" x2="129.64" y2="449.55" stroke="#000" stroke-width="1.1"/>
<line x1="134.72" y1="446.75" x2="134.72" y2="449.55" stroke="#000" stroke-width="1.1"/>
<line x1="139.79" y1="446.75" x2="139.79" y2="449.55" stroke="#000" stroke-width="1.1"/>
<line x1="144.87" y1="446.75" x2="144.87" y2="451.55" stroke="#000" stroke-width="1.1"/>
<line x1="149.95" y1="446.75" x2="149.95" y2="449.55" stroke="#000" stroke-width="1.1"/>
<line x1="155.02" y1="446.75" x2="155.02" y2="449.55" stroke="#000" stroke-width="1.1"/>
<line x1="160.1" y1="446.75" x2="160.1" y2="449.55" stroke="#000" stroke-width="1.1"/>
<line x1="165.17" y1="446.75" x2="165.17" y2="449.55" stroke="#000" stroke-width="1.1"/>
<line x1="170.25" y1="446.75" x2="170.25" y2="451.55" stroke="#000" stroke-width="1.1"/>
<line x1="175.33" y1="446.75" x2="175.33" y2="449.55" stroke="#000" stroke-width="1.1"/>
<line x1="180.4" y1="446.75" x2="180.4" y2="449.55" stroke="#000" stroke-width="1.1"/>
<line x1="185.48" y1="446.75" x2="185.48" y2="449.55" stroke="#000" stroke-width="1.1"/>
<line x1="190.55" y1="446.75" x2="190.55" y2="449.55" stroke="#000" stroke-width="1.1"/>
<line x1="195.63" y1="446.75" x2="195.63" y2="451.55" stroke="#000" stroke-width="1.1"/>
<text x="38.45" y="448.82" font-size="8.4" text-anchor="end" font-weight="bold" fill="#1a1a1a">0</text>
<text x="38.45" y="428.6" font-size="8.4" text-anchor="end" font-weight="bold" fill="#1a1a1a">20</text>
<text x="38.45" y="408.38" font-size="8.4" text-anchor="end" font-weight="bold" fill="#1a1a1a">40</text>
<text x="38.45" y="388.16" font-size="8.4" text-anchor="end" font-weight="bold" fill="#1a1a1a">60</text>
<text x="38.45" y="367.94" font-size="8.4" text-anchor="end" font-weight="bold" fill="#1a1a1a">80</text>
<text x="38.45" y="347.72" font-size="8.4" text-anchor="end" font-weight="bold" fill="#1a1a1a">100</text>
<text x="43.35" y="457.85" font-size="8.6" text-anchor="middle" font-weight="bold" fill="#1a1a1a">0</text>
<text x="68.73" y="457.85" font-size="8.6" text-anchor="middle" font-weight="bold" fill="#1a1a1a">10</text>
<text x="94.11" y="457.85" font-size="8.6" text-anchor="middle" font-weight="bold" fill="#1a1a1a">20</text>
<text x="119.49" y="457.85" font-size="8.6" text-anchor="middle" font-weight="bold" fill="#1a1a1a">30</text>
<text x="144.87" y="457.85" font-size="8.6" text-anchor="middle" font-weight="bold" fill="#1a1a1a">40</text>
<text x="170.25" y="457.85" font-size="8.6" text-anchor="middle" font-weight="bold" fill="#1a1a1a">50</text>
<text x="195.63" y="457.85" font-size="8.6" text-anchor="middle" font-weight="bold" fill="#1a1a1a">60</text>
<text x="6.6" y="392" font-size="8" text-anchor="middle" font-weight="bold" fill="#1a1a1a" transform="rotate(-90 6.6 392)">eCAP amplitude</text>
<text x="17.1" y="392" font-size="8" text-anchor="middle" font-weight="bold" fill="#1a1a1a" transform="rotate(-90 17.1 392)">(% of max response)</text>
<text x="119.49" y="474.8" font-size="9.5" text-anchor="middle" font-weight="bold" fill="#1a1a1a">Charge (<tspan font-weight="normal">μ</tspan>C)</text>
<text x="155.5" y="431.4" font-size="14" text-anchor="start" fill="#333">0.4ms</text>
<text x="0.5" y="485.9" font-size="17" text-anchor="start" fill="#1a1a1a">c<tspan dx="1.4" font-size="17.8">)</tspan></text>
<circle cx="45.13" cy="443.31" r="1.75" fill="#0a32ff" stroke="none" stroke-width="0"/>
<circle cx="46.19" cy="442.93" r="1.75" fill="#0a32ff" stroke="none" stroke-width="0"/>
<circle cx="47.26" cy="442.54" r="1.75" fill="#0a32ff" stroke="none" stroke-width="0"/>
<circle cx="48.32" cy="442.16" r="1.75" fill="#0a32ff" stroke="none" stroke-width="0"/>
<circle cx="49.39" cy="441.78" r="1.75" fill="#0a32ff" stroke="none" stroke-width="0"/>
<circle cx="50.46" cy="441.39" r="1.75" fill="#0a32ff" stroke="none" stroke-width="0"/>
<circle cx="51.52" cy="441.01" r="1.75" fill="#0a32ff" stroke="none" stroke-width="0"/>
<circle cx="52.59" cy="440.62" r="1.75" fill="#0a32ff" stroke="none" stroke-width="0"/>
<circle cx="53.65" cy="440.24" r="1.75" fill="#0a32ff" stroke="none" stroke-width="0"/>
<polyline points="43.35,446.75 43.58,446.75 43.8,446.75 44.02,446.75 44.25,446.75 44.47,446.75 44.69,446.75 44.92,446.75 45.14,446.75 45.36,446.75 45.59,446.75 45.81,446.75 46.03,446.75 46.26,446.75 46.48,446.75 46.7,446.75 46.93,446.75 47.15,446.75 47.37,446.75 47.6,446.75 47.82,446.75 48.05,446.75 48.27,446.75 48.49,446.75 48.72,446.75 48.94,446.75 49.16,446.75 49.39,446.75 49.61,446.75 49.83,446.75 50.06,446.75 50.28,446.75 50.5,446.74 50.73,446.74 50.95,446.74 51.17,446.74 51.4,446.74 51.62,446.73 51.84,446.73 52.07,446.73 52.29,446.72 52.51,446.71 52.74,446.71 52.96,446.7 53.18,446.69 53.41,446.68 53.63,446.66 53.85,446.65 54.08,446.63 54.3,446.61 54.53,446.58 54.75,446.55 54.97,446.52 55.2,446.49 55.42,446.44 55.64,446.4 55.87,446.34 56.09,446.28 56.31,446.22 56.54,446.14 56.76,446.06 56.98,445.96 57.21,445.86 57.43,445.74 57.65,445.61 57.88,445.46 58.1,445.3 58.32,445.13 58.55,444.93 58.77,444.72 58.99,444.48 59.22,444.22 59.44,443.94 59.66,443.63 59.89,443.29 60.11,442.92 60.34,442.53 60.56,442.09 60.78,441.63 61.01,441.12 61.23,440.58 61.45,439.99 61.68,439.36 61.9,438.69 62.12,437.96 62.35,437.2 62.57,436.38 62.79,435.51 63.02,434.58 63.24,433.61 63.46,432.58 63.69,431.5 63.91,430.36 64.13,429.17 64.36,427.93 64.58,426.63 64.8,425.28 65.03,423.88 65.25,422.43 65.47,420.94 65.7,419.41 65.92,417.83 66.15,416.22 66.37,414.57 66.59,412.9 66.82,411.2 67.04,409.48 67.26,407.74 67.49,405.98 67.71,404.22 67.93,402.46 68.16,400.7 68.38,398.94 68.6,397.19 68.83,395.45 69.05,393.73 69.27,392.03 69.5,390.36 69.72,388.71 69.94,387.09 70.17,385.5 70.39,383.95 70.61,382.44 70.84,380.96 71.06,379.52 71.28,378.13 71.51,376.77 71.73,375.46 71.95,374.19 72.18,372.97 72.4,371.78 72.63,370.64 72.85,369.54 73.07,368.48 73.3,367.47 73.52,366.49 73.74,365.56 73.97,364.66 74.19,363.8 74.41,362.97 74.64,362.19 74.86,361.43 75.08,360.71 75.31,360.02 75.53,359.37 75.75,358.74 75.98,358.14 76.2,357.57 76.42,357.03 76.65,356.51 76.87,356.01 77.09,355.54 77.32,355.09 77.54,354.66 77.76,354.25 77.99,353.86 78.21,353.49 78.44,353.14 78.66,352.8 78.88,352.48" fill="none" stroke="#ff8c00" stroke-width="1" stroke-linejoin="round"/>
<polyline points="43.35,446.75 43.67,446.75 43.99,446.75 44.31,446.75 44.63,446.75 44.95,446.75 45.27,446.75 45.59,446.75 45.91,446.75 46.23,446.75 46.54,446.75 46.86,446.75 47.18,446.75 47.5,446.75 47.82,446.75 48.14,446.75 48.46,446.75 48.78,446.75 49.1,446.75 49.42,446.75 49.74,446.75 50.06,446.75 50.38,446.75 50.69,446.75 51.01,446.75 51.33,446.75 51.65,446.75 51.97,446.75 52.29,446.75 52.61,446.75 52.93,446.75 53.25,446.75 53.57,446.75 53.89,446.75 54.21,446.75 54.53,446.75 54.84,446.75 55.16,446.75 55.48,446.75 55.8,446.75 56.12,446.75 56.44,446.75 56.76,446.75 57.08,446.75 57.4,446.75 57.72,446.74 58.04,446.74 58.36,446.74 58.68,446.74 58.99,446.74 59.31,446.74 59.63,446.73 59.95,446.73 60.27,446.73 60.59,446.72 60.91,446.72 61.23,446.71 61.55,446.71 61.87,446.7 62.19,446.69 62.51,446.68 62.83,446.67 63.14,446.66 63.46,446.64 63.78,446.63 64.1,446.61 64.42,446.59 64.74,446.57 65.06,446.54 65.38,446.51 65.7,446.48 66.02,446.44 66.34,446.4 66.66,446.36 66.98,446.3 67.29,446.25 67.61,446.18 67.93,446.11 68.25,446.04 68.57,445.95 68.89,445.86 69.21,445.75 69.53,445.64 69.85,445.51 70.17,445.37 70.49,445.22 70.81,445.05 71.13,444.87 71.44,444.67 71.76,444.45 72.08,444.21 72.4,443.95 72.72,443.67 73.04,443.37 73.36,443.04 73.68,442.68 74,442.3 74.32,441.89 74.64,441.44 74.96,440.96 75.28,440.45 75.59,439.9 75.91,439.31 76.23,438.68 76.55,438.01 76.87,437.3 77.19,436.54 77.51,435.74 77.83,434.89 78.15,433.99 78.47,433.05 78.79,432.05 79.11,431.01 79.43,429.92 79.74,428.78 80.06,427.59 80.38,426.35 80.7,425.06 81.02,423.73 81.34,422.35 81.66,420.93 81.98,419.46 82.3,417.96 82.62,416.43 82.94,414.86 83.26,413.26 83.58,411.64 83.89,409.99 84.21,408.32 84.53,406.64 84.85,404.95 85.17,403.25 85.49,401.54 85.81,399.84 86.13,398.14 86.45,396.45 86.77,394.77 87.09,393.11 87.41,391.47 87.73,389.84 88.04,388.24 88.36,386.67 88.68,385.13 89,383.63 89.32,382.15 89.64,380.71 89.96,379.31 90.28,377.94 90.6,376.62 90.92,375.33 91.24,374.08 91.56,372.88 91.88,371.71 92.19,370.59 92.51,369.5 92.83,368.46 93.15,367.45 93.47,366.48 93.79,365.55 94.11,364.66" fill="none" stroke="#a87c50" stroke-width="1" stroke-linejoin="round"/>
<polyline points="43.35,446.75 43.61,446.75 43.86,446.75 44.12,446.75 44.37,446.75 44.63,446.75 44.88,446.75 45.14,446.75 45.4,446.75 45.65,446.75 45.91,446.75 46.16,446.75 46.42,446.75 46.67,446.75 46.93,446.75 47.18,446.75 47.44,446.75 47.69,446.75 47.95,446.75 48.2,446.75 48.46,446.75 48.72,446.75 48.97,446.75 49.23,446.75 49.48,446.75 49.74,446.75 49.99,446.75 50.25,446.75 50.5,446.75 50.76,446.75 51.01,446.75 51.27,446.75 51.52,446.75 51.78,446.75 52.04,446.75 52.29,446.75 52.55,446.75 52.8,446.75 53.06,446.75 53.31,446.75 53.57,446.75 53.82,446.75 54.08,446.75 54.33,446.75 54.59,446.75 54.84,446.75 55.1,446.75 55.36,446.75 55.61,446.75 55.87,446.75 56.12,446.75 56.38,446.75 56.63,446.75 56.89,446.75 57.14,446.75 57.4,446.75 57.65,446.75 57.91,446.75 58.16,446.75 58.42,446.75 58.68,446.75 58.93,446.75 59.19,446.75 59.44,446.75 59.7,446.74 59.95,446.74 60.21,446.74 60.46,446.74 60.72,446.73 60.97,446.72 61.23,446.72 61.48,446.7 61.74,446.69 62,446.67 62.25,446.65 62.51,446.61 62.76,446.57 63.02,446.52 63.27,446.45 63.53,446.36 63.78,446.25 64.04,446.11 64.29,445.94 64.55,445.72 64.8,445.44 65.06,445.1 65.32,444.68 65.57,444.15 65.83,443.5 66.08,442.71 66.34,441.75 66.59,440.59 66.85,439.2 67.1,437.55 67.36,435.59 67.61,433.31 67.87,430.68 68.12,427.68 68.38,424.3 68.64,420.56 68.89,416.47 69.15,412.09 69.4,407.47 69.66,402.7 69.91,397.85 70.17,393.02 70.42,388.29 70.68,383.74 70.93,379.43 71.19,375.42 71.44,371.73 71.7,368.39 71.96,365.38 72.21,362.71 72.47,360.36 72.72,358.29 72.98,356.5 73.23,354.95 73.49,353.61 73.74,352.45 74,351.47 74.25,350.62 74.51,349.9 74.76,349.28 75.02,348.75 75.28,348.31 75.53,347.92 75.79,347.6 76.04,347.32 76.3,347.08 76.55,346.88 76.81,346.71 77.06,346.56 77.32,346.43 77.57,346.32 77.83,346.23 78.08,346.15 78.34,346.08 78.6,346.03 78.85,345.98 79.11,345.93 79.36,345.89 79.62,345.86 79.87,345.83 80.13,345.81 80.38,345.79 80.64,345.77 80.89,345.76 81.15,345.74 81.4,345.73 81.66,345.72 81.91,345.71 82.17,345.7 82.43,345.7 82.68,345.69 82.94,345.69 83.19,345.68 83.45,345.68 83.7,345.68 83.96,345.67" fill="none" stroke="#ff2a1a" stroke-width="1" stroke-linejoin="round"/>
<polyline points="43.35,446.75 43.61,446.75 43.86,446.75 44.12,446.75 44.37,446.75 44.63,446.75 44.88,446.75 45.14,446.75 45.4,446.75 45.65,446.74 45.91,446.74 46.16,446.74 46.42,446.73 46.67,446.73 46.93,446.72 47.18,446.71 47.44,446.69 47.69,446.68 47.95,446.66 48.2,446.63 48.46,446.61 48.72,446.57 48.97,446.54 49.23,446.49 49.48,446.44 49.74,446.39 49.99,446.32 50.25,446.25 50.5,446.17 50.76,446.07 51.01,445.97 51.27,445.86 51.52,445.73 51.78,445.59 52.04,445.44 52.29,445.27 52.55,445.09 52.8,444.89 53.06,444.67 53.31,444.44 53.57,444.19 53.82,443.92 54.08,443.62 54.33,443.31 54.59,442.97 54.84,442.62 55.1,442.23 55.36,441.83 55.61,441.4 55.87,440.94 56.12,440.46 56.38,439.95 56.63,439.42 56.89,438.85 57.14,438.26 57.4,437.64 57.65,437 57.91,436.32 58.16,435.62 58.42,434.89 58.68,434.13 58.93,433.34 59.19,432.53 59.44,431.68 59.7,430.82 59.95,429.92 60.21,429.01 60.46,428.06 60.72,427.1 60.97,426.11 61.23,425.1 61.48,424.07 61.74,423.02 62,421.95 62.25,420.86 62.51,419.76 62.76,418.65 63.02,417.52 63.27,416.38 63.53,415.23 63.78,414.08 64.04,412.91 64.29,411.74 64.55,410.57 64.8,409.39 65.06,408.21 65.32,407.04 65.57,405.86 65.83,404.68 66.08,403.51 66.34,402.35 66.59,401.19 66.85,400.04 67.1,398.9 67.36,397.76 67.61,396.64 67.87,395.53 68.12,394.43 68.38,393.34 68.64,392.27 68.89,391.21 69.15,390.17 69.4,389.14 69.66,388.13 69.91,387.13 70.17,386.15 70.42,385.19 70.68,384.25 70.93,383.32 71.19,382.41 71.44,381.52 71.7,380.64 71.96,379.78 72.21,378.95 72.47,378.12 72.72,377.32 72.98,376.54 73.23,375.77 73.49,375.02 73.74,374.28 74,373.57 74.25,372.87 74.51,372.19 74.76,371.52 75.02,370.87 75.28,370.24 75.53,369.62 75.79,369.02 76.04,368.43 76.3,367.86 76.55,367.31 76.81,366.76 77.06,366.23 77.32,365.72 77.57,365.22 77.83,364.73 78.08,364.26 78.34,363.79 78.6,363.34 78.85,362.9 79.11,362.48 79.36,362.06 79.62,361.66 79.87,361.27 80.13,360.88 80.38,360.51 80.64,360.15 80.89,359.8 81.15,359.45 81.4,359.12 81.66,358.8 81.91,358.48 82.17,358.17 82.43,357.87 82.68,357.58 82.94,357.3 83.19,357.02 83.45,356.76 83.7,356.49 83.96,356.24" fill="none" stroke="#0a32ff" stroke-width="1" stroke-linejoin="round"/>
<polyline points="43.35,446.75 43.67,446.75 43.99,446.75 44.31,446.75 44.63,446.75 44.95,446.75 45.27,446.75 45.59,446.75 45.91,446.75 46.23,446.75 46.54,446.75 46.86,446.75 47.18,446.75 47.5,446.75 47.82,446.75 48.14,446.75 48.46,446.75 48.78,446.74 49.1,446.74 49.42,446.74 49.74,446.74 50.06,446.74 50.38,446.73 50.69,446.73 51.01,446.73 51.33,446.72 51.65,446.72 51.97,446.71 52.29,446.7 52.61,446.7 52.93,446.69 53.25,446.68 53.57,446.67 53.89,446.66 54.21,446.65 54.53,446.64 54.84,446.63 55.16,446.61 55.48,446.6 55.8,446.58 56.12,446.56 56.44,446.54 56.76,446.52 57.08,446.5 57.4,446.47 57.72,446.45 58.04,446.42 58.36,446.39 58.68,446.36 58.99,446.33 59.31,446.29 59.63,446.25 59.95,446.21 60.27,446.17 60.59,446.13 60.91,446.08 61.23,446.03 61.55,445.98 61.87,445.92 62.19,445.86 62.51,445.8 62.83,445.74 63.14,445.67 63.46,445.6 63.78,445.53 64.1,445.45 64.42,445.37 64.74,445.28 65.06,445.2 65.38,445.1 65.7,445.01 66.02,444.91 66.34,444.8 66.66,444.7 66.98,444.58 67.29,444.47 67.61,444.35 67.93,444.22 68.25,444.09 68.57,443.95 68.89,443.81 69.21,443.67 69.53,443.52 69.85,443.36 70.17,443.2 70.49,443.04 70.81,442.87 71.13,442.69 71.44,442.51 71.76,442.32 72.08,442.13 72.4,441.93 72.72,441.73 73.04,441.51 73.36,441.3 73.68,441.08 74,440.85 74.32,440.61 74.64,440.37 74.96,440.13 75.28,439.87 75.59,439.61 75.91,439.35 76.23,439.07 76.55,438.8 76.87,438.51 77.19,438.22 77.51,437.92 77.83,437.62 78.15,437.31 78.47,436.99 78.79,436.66 79.11,436.33 79.43,436 79.74,435.65 80.06,435.3 80.38,434.95 80.7,434.58 81.02,434.22 81.34,433.84 81.66,433.46 81.98,433.07 82.3,432.68 82.62,432.28 82.94,431.87 83.26,431.46 83.58,431.04 83.89,430.62 84.21,430.19 84.53,429.75 84.85,429.31 85.17,428.86 85.49,428.41 85.81,427.95 86.13,427.49 86.45,427.02 86.77,426.55 87.09,426.07 87.41,425.59 87.73,425.1 88.04,424.61 88.36,424.11 88.68,423.61 89,423.11 89.32,422.6 89.64,422.09 89.96,421.57 90.28,421.05 90.6,420.53 90.92,420 91.24,419.47 91.56,418.94 91.88,418.4 92.19,417.87 92.51,417.32 92.83,416.78 93.15,416.24 93.47,415.69 93.79,415.14 94.11,414.59" fill="none" stroke="#8c288c" stroke-width="1" stroke-linejoin="round"/>
<polyline points="43.35,446.75 43.67,446.75 43.99,446.75 44.31,446.75 44.63,446.75 44.95,446.75 45.27,446.75 45.59,446.75 45.91,446.75 46.23,446.75 46.54,446.75 46.86,446.75 47.18,446.75 47.5,446.75 47.82,446.75 48.14,446.75 48.46,446.75 48.78,446.75 49.1,446.75 49.42,446.75 49.74,446.75 50.06,446.75 50.38,446.74 50.69,446.74 51.01,446.74 51.33,446.74 51.65,446.73 51.97,446.73 52.29,446.72 52.61,446.72 52.93,446.71 53.25,446.7 53.57,446.69 53.89,446.68 54.21,446.66 54.53,446.64 54.84,446.62 55.16,446.6 55.48,446.58 55.8,446.55 56.12,446.51 56.44,446.48 56.76,446.43 57.08,446.38 57.4,446.33 57.72,446.27 58.04,446.2 58.36,446.13 58.68,446.05 58.99,445.95 59.31,445.85 59.63,445.74 59.95,445.62 60.27,445.48 60.59,445.33 60.91,445.17 61.23,444.99 61.55,444.8 61.87,444.59 62.19,444.36 62.51,444.11 62.83,443.85 63.14,443.56 63.46,443.25 63.78,442.92 64.1,442.56 64.42,442.17 64.74,441.76 65.06,441.32 65.38,440.86 65.7,440.36 66.02,439.83 66.34,439.27 66.66,438.67 66.98,438.05 67.29,437.38 67.61,436.69 67.93,435.95 68.25,435.18 68.57,434.38 68.89,433.53 69.21,432.65 69.53,431.74 69.85,430.78 70.17,429.79 70.49,428.77 70.81,427.71 71.13,426.61 71.44,425.48 71.76,424.32 72.08,423.13 72.4,421.91 72.72,420.66 73.04,419.39 73.36,418.09 73.68,416.76 74,415.42 74.32,414.06 74.64,412.69 74.96,411.3 75.28,409.9 75.59,408.49 75.91,407.07 76.23,405.65 76.55,404.23 76.87,402.81 77.19,401.39 77.51,399.98 77.83,398.58 78.15,397.18 78.47,395.8 78.79,394.42 79.11,393.07 79.43,391.73 79.74,390.41 80.06,389.1 80.38,387.82 80.7,386.56 81.02,385.32 81.34,384.11 81.66,382.92 81.98,381.76 82.3,380.62 82.62,379.51 82.94,378.42 83.26,377.36 83.58,376.33 83.89,375.33 84.21,374.35 84.53,373.4 84.85,372.48 85.17,371.58 85.49,370.71 85.81,369.87 86.13,369.05 86.45,368.26 86.77,367.49 87.09,366.75 87.41,366.03 87.73,365.33 88.04,364.66 88.36,364.01 88.68,363.38 89,362.77 89.32,362.19 89.64,361.62 89.96,361.07 90.28,360.55 90.6,360.04 90.92,359.55 91.24,359.07 91.56,358.61 91.88,358.17 92.19,357.75 92.51,357.34 92.83,356.94 93.15,356.56 93.47,356.19 93.79,355.84 94.11,355.5" fill="none" stroke="#ff44ff" stroke-width="1" stroke-linejoin="round"/>
<polyline points="43.35,446.75 43.67,446.75 43.99,446.75 44.31,446.75 44.63,446.75 44.95,446.75 45.27,446.75 45.59,446.75 45.91,446.75 46.23,446.75 46.54,446.75 46.86,446.75 47.18,446.75 47.5,446.75 47.82,446.75 48.14,446.75 48.46,446.75 48.78,446.75 49.1,446.75 49.42,446.75 49.74,446.75 50.06,446.75 50.38,446.75 50.69,446.75 51.01,446.75 51.33,446.75 51.65,446.75 51.97,446.75 52.29,446.75 52.61,446.75 52.93,446.75 53.25,446.75 53.57,446.75 53.89,446.75 54.21,446.75 54.53,446.75 54.84,446.75 55.16,446.75 55.48,446.75 55.8,446.75 56.12,446.75 56.44,446.75 56.76,446.75 57.08,446.75 57.4,446.75 57.72,446.75 58.04,446.75 58.36,446.75 58.68,446.75 58.99,446.75 59.31,446.75 59.63,446.75 59.95,446.75 60.27,446.75 60.59,446.75 60.91,446.75 61.23,446.75 61.55,446.75 61.87,446.75 62.19,446.75 62.51,446.75 62.83,446.75 63.14,446.75 63.46,446.75 63.78,446.75 64.1,446.75 64.42,446.75 64.74,446.75 65.06,446.75 65.38,446.75 65.7,446.75 66.02,446.75 66.34,446.74 66.66,446.74 66.98,446.74 67.29,446.74 67.61,446.74 67.93,446.74 68.25,446.74 68.57,446.73 68.89,446.73 69.21,446.73 69.53,446.72 69.85,446.72 70.17,446.72 70.49,446.71 70.81,446.71 71.13,446.7 71.44,446.69 71.76,446.68 72.08,446.67 72.4,446.66 72.72,446.65 73.04,446.64 73.36,446.62 73.68,446.6 74,446.58 74.32,446.56 74.64,446.54 74.96,446.51 75.28,446.48 75.59,446.44 75.91,446.41 76.23,446.36 76.55,446.32 76.87,446.26 77.19,446.21 77.51,446.14 77.83,446.07 78.15,445.99 78.47,445.9 78.79,445.81 79.11,445.7 79.43,445.59 79.74,445.46 80.06,445.32 80.38,445.16 80.7,444.99 81.02,444.81 81.34,444.61 81.66,444.38 81.98,444.14 82.3,443.88 82.62,443.59 82.94,443.28 83.26,442.95 83.58,442.58 83.89,442.18 84.21,441.76 84.53,441.29 84.85,440.79 85.17,440.26 85.49,439.68 85.81,439.06 86.13,438.4 86.45,437.69 86.77,436.93 87.09,436.12 87.41,435.26 87.73,434.35 88.04,433.39 88.36,432.36 88.68,431.29 89,430.15 89.32,428.96 89.64,427.71 89.96,426.4 90.28,425.04 90.6,423.62 90.92,422.14 91.24,420.62 91.56,419.04 91.88,417.42 92.19,415.76 92.51,414.05 92.83,412.31 93.15,410.54 93.47,408.74 93.79,406.91 94.11,405.07" fill="none" stroke="#00ee00" stroke-width="1" stroke-linejoin="round"/>
<circle cx="58.58" cy="440.99" r="1.56" fill="none" stroke="#ff8c00" stroke-width="1.08"/>
<circle cx="63.65" cy="432.49" r="1.56" fill="none" stroke="#ff8c00" stroke-width="1.08"/>
<circle cx="68.73" cy="387.61" r="1.56" fill="none" stroke="#ff8c00" stroke-width="1.08"/>
<circle cx="74.31" cy="353.13" r="1.56" fill="none" stroke="#ff8c00" stroke-width="1.08"/>
<circle cx="79.39" cy="378.61" r="1.56" fill="none" stroke="#ff8c00" stroke-width="1.08"/>
<line x1="61.49" y1="441.39" x2="65.81" y2="441.39" stroke="#a87c50" stroke-width="1.5"/>
<line x1="63.65" y1="439.23" x2="63.65" y2="443.55" stroke="#a87c50" stroke-width="1.5"/>
<line x1="71.65" y1="438.16" x2="75.97" y2="438.16" stroke="#a87c50" stroke-width="1.5"/>
<line x1="73.81" y1="436" x2="73.81" y2="440.32" stroke="#a87c50" stroke-width="1.5"/>
<line x1="76.72" y1="429.77" x2="81.04" y2="429.77" stroke="#a87c50" stroke-width="1.5"/>
<line x1="78.88" y1="427.61" x2="78.88" y2="431.93" stroke="#a87c50" stroke-width="1.5"/>
<line x1="81.8" y1="412.88" x2="86.12" y2="412.88" stroke="#a87c50" stroke-width="1.5"/>
<line x1="83.96" y1="410.72" x2="83.96" y2="415.04" stroke="#a87c50" stroke-width="1.5"/>
<line x1="86.87" y1="389.12" x2="91.19" y2="389.12" stroke="#a87c50" stroke-width="1.5"/>
<line x1="89.03" y1="386.96" x2="89.03" y2="391.28" stroke="#a87c50" stroke-width="1.5"/>
<line x1="91.95" y1="357.28" x2="96.27" y2="357.28" stroke="#a87c50" stroke-width="1.5"/>
<line x1="94.11" y1="355.12" x2="94.11" y2="359.44" stroke="#a87c50" stroke-width="1.5"/>
<polygon points="63.65,425.3 64.23,426.85 65.88,426.92 64.59,427.95 65.03,429.54 63.65,428.62 62.28,429.54 62.72,427.95 61.43,426.92 63.08,426.85" fill="#ff2a1a"/>
<polygon points="68.73,423.99 69.31,425.53 70.96,425.6 69.66,426.63 70.11,428.22 68.73,427.31 67.35,428.22 67.8,426.63 66.5,425.6 68.15,425.53" fill="#ff2a1a"/>
<polygon points="74.31,356.15 74.89,357.69 76.54,357.77 75.25,358.79 75.69,360.38 74.31,359.47 72.94,360.38 73.38,358.79 72.09,357.77 73.74,357.69" fill="#ff2a1a"/>
<polygon points="84.21,373.44 84.79,374.98 86.44,375.05 85.15,376.08 85.59,377.67 84.21,376.76 82.84,377.67 83.28,376.08 81.99,375.05 83.63,374.98" fill="#ff2a1a"/>
<circle cx="58.58" cy="430.27" r="2.16" fill="#0a32ff" stroke="none" stroke-width="0"/>
<circle cx="63.65" cy="402.27" r="2.16" fill="#0a32ff" stroke="none" stroke-width="0"/>
<circle cx="68.73" cy="393.37" r="2.16" fill="#0a32ff" stroke="none" stroke-width="0"/>
<circle cx="73.81" cy="383.06" r="2.16" fill="#0a32ff" stroke="none" stroke-width="0"/>
<circle cx="78.88" cy="345.65" r="2.16" fill="#0a32ff" stroke="none" stroke-width="0"/>
<circle cx="83.96" cy="349.69" r="2.16" fill="#0a32ff" stroke="none" stroke-width="0"/>
<polygon points="66.51,440.66 70.95,440.66 68.73,444.98" fill="#8c288c"/>
<polygon points="71.59,438.34 76.03,438.34 73.81,442.66" fill="#8c288c"/>
<polygon points="76.66,433.89 81.1,433.89 78.88,438.21" fill="#8c288c"/>
<polygon points="81.74,427.21 86.18,427.21 83.96,431.53" fill="#8c288c"/>
<polygon points="86.81,424.59 91.25,424.59 89.03,428.91" fill="#8c288c"/>
<polygon points="89.35,422.36 93.79,422.36 91.57,426.68" fill="#8c288c"/>
<polygon points="91.89,411.44 96.33,411.44 94.11,415.76" fill="#8c288c"/>
<polygon points="53.5,444.53 55.27,446.75 53.5,448.97 51.73,446.75" fill="#ff44ff"/>
<polygon points="58.58,442.1 60.35,444.32 58.58,446.54 56.81,444.32" fill="#ff44ff"/>
<polygon points="63.65,433.61 65.42,435.83 63.65,438.05 61.88,435.83" fill="#ff44ff"/>
<polygon points="68.73,423.3 70.5,425.52 68.73,427.74 66.96,425.52" fill="#ff44ff"/>
<polygon points="73.81,415.21 75.58,417.43 73.81,419.65 72.04,417.43" fill="#ff44ff"/>
<polygon points="78.88,404.09 80.65,406.31 78.88,408.53 77.11,406.31" fill="#ff44ff"/>
<polygon points="83.96,376.79 85.73,379.01 83.96,381.23 82.19,379.01" fill="#ff44ff"/>
<polygon points="89.03,343.83 90.8,346.05 89.03,348.27 87.26,346.05" fill="#ff44ff"/>
<polygon points="94.11,342.42 95.88,344.64 94.11,346.86 92.34,344.64" fill="#ff44ff"/>
<rect x="76.78" y="444.65" width="4.2" height="4.2" fill="#00ee00"/>
<rect x="81.86" y="433.73" width="4.2" height="4.2" fill="#00ee00"/>
<rect x="86.93" y="434.54" width="4.2" height="4.2" fill="#00ee00"/>
<rect x="92.01" y="397.54" width="4.2" height="4.2" fill="#00ee00"/>
<line x1="250.1" y1="332.7" x2="250.1" y2="447.6" stroke="#000" stroke-width="1.4"/>
<line x1="250.1" y1="447" x2="421.72" y2="447" stroke="#000" stroke-width="1.4"/>
<line x1="245.5" y1="447" x2="250.1" y2="447" stroke="#000" stroke-width="1.1"/>
<line x1="245.5" y1="424.26" x2="250.1" y2="424.26" stroke="#000" stroke-width="1.1"/>
<line x1="245.5" y1="401.52" x2="250.1" y2="401.52" stroke="#000" stroke-width="1.1"/>
<line x1="245.5" y1="378.78" x2="250.1" y2="378.78" stroke="#000" stroke-width="1.1"/>
<line x1="245.5" y1="356.04" x2="250.1" y2="356.04" stroke="#000" stroke-width="1.1"/>
<line x1="245.5" y1="333.3" x2="250.1" y2="333.3" stroke="#000" stroke-width="1.1"/>
<line x1="250.1" y1="447" x2="250.1" y2="451.8" stroke="#000" stroke-width="1.1"/>
<line x1="255.8" y1="447" x2="255.8" y2="449.8" stroke="#000" stroke-width="1.1"/>
<line x1="261.51" y1="447" x2="261.51" y2="449.8" stroke="#000" stroke-width="1.1"/>
<line x1="267.21" y1="447" x2="267.21" y2="449.8" stroke="#000" stroke-width="1.1"/>
<line x1="272.92" y1="447" x2="272.92" y2="449.8" stroke="#000" stroke-width="1.1"/>
<line x1="278.62" y1="447" x2="278.62" y2="451.8" stroke="#000" stroke-width="1.1"/>
<line x1="284.32" y1="447" x2="284.32" y2="449.8" stroke="#000" stroke-width="1.1"/>
<line x1="290.03" y1="447" x2="290.03" y2="449.8" stroke="#000" stroke-width="1.1"/>
<line x1="295.73" y1="447" x2="295.73" y2="449.8" stroke="#000" stroke-width="1.1"/>
<line x1="301.44" y1="447" x2="301.44" y2="449.8" stroke="#000" stroke-width="1.1"/>
<line x1="307.14" y1="447" x2="307.14" y2="451.8" stroke="#000" stroke-width="1.1"/>
<line x1="312.84" y1="447" x2="312.84" y2="449.8" stroke="#000" stroke-width="1.1"/>
<line x1="318.55" y1="447" x2="318.55" y2="449.8" stroke="#000" stroke-width="1.1"/>
<line x1="324.25" y1="447" x2="324.25" y2="449.8" stroke="#000" stroke-width="1.1"/>
<line x1="329.96" y1="447" x2="329.96" y2="449.8" stroke="#000" stroke-width="1.1"/>
<line x1="335.66" y1="447" x2="335.66" y2="451.8" stroke="#000" stroke-width="1.1"/>
<line x1="341.36" y1="447" x2="341.36" y2="449.8" stroke="#000" stroke-width="1.1"/>
<line x1="347.07" y1="447" x2="347.07" y2="449.8" stroke="#000" stroke-width="1.1"/>
<line x1="352.77" y1="447" x2="352.77" y2="449.8" stroke="#000" stroke-width="1.1"/>
<line x1="358.48" y1="447" x2="358.48" y2="449.8" stroke="#000" stroke-width="1.1"/>
<line x1="364.18" y1="447" x2="364.18" y2="451.8" stroke="#000" stroke-width="1.1"/>
<line x1="369.88" y1="447" x2="369.88" y2="449.8" stroke="#000" stroke-width="1.1"/>
<line x1="375.59" y1="447" x2="375.59" y2="449.8" stroke="#000" stroke-width="1.1"/>
<line x1="381.29" y1="447" x2="381.29" y2="449.8" stroke="#000" stroke-width="1.1"/>
<line x1="387" y1="447" x2="387" y2="449.8" stroke="#000" stroke-width="1.1"/>
<line x1="392.7" y1="447" x2="392.7" y2="451.8" stroke="#000" stroke-width="1.1"/>
<line x1="398.4" y1="447" x2="398.4" y2="449.8" stroke="#000" stroke-width="1.1"/>
<line x1="404.11" y1="447" x2="404.11" y2="449.8" stroke="#000" stroke-width="1.1"/>
<line x1="409.81" y1="447" x2="409.81" y2="449.8" stroke="#000" stroke-width="1.1"/>
<line x1="415.52" y1="447" x2="415.52" y2="449.8" stroke="#000" stroke-width="1.1"/>
<line x1="421.22" y1="447" x2="421.22" y2="451.8" stroke="#000" stroke-width="1.1"/>
<text x="244.8" y="449.58" font-size="9.8" text-anchor="end" font-weight="bold" fill="#1a1a1a">0</text>
<text x="244.8" y="426.84" font-size="9.8" text-anchor="end" font-weight="bold" fill="#1a1a1a">20</text>
<text x="244.8" y="404.1" font-size="9.8" text-anchor="end" font-weight="bold" fill="#1a1a1a">40</text>
<text x="244.8" y="381.36" font-size="9.8" text-anchor="end" font-weight="bold" fill="#1a1a1a">60</text>
<text x="244.8" y="358.62" font-size="9.8" text-anchor="end" font-weight="bold" fill="#1a1a1a">80</text>
<text x="244.8" y="335.88" font-size="9.8" text-anchor="end" font-weight="bold" fill="#1a1a1a">100</text>
<text x="250.1" y="459.7" font-size="9.8" text-anchor="middle" font-weight="bold" fill="#1a1a1a">0</text>
<text x="278.62" y="459.7" font-size="9.8" text-anchor="middle" font-weight="bold" fill="#1a1a1a">10</text>
<text x="307.14" y="459.7" font-size="9.8" text-anchor="middle" font-weight="bold" fill="#1a1a1a">20</text>
<text x="335.66" y="459.7" font-size="9.8" text-anchor="middle" font-weight="bold" fill="#1a1a1a">30</text>
<text x="364.18" y="459.7" font-size="9.8" text-anchor="middle" font-weight="bold" fill="#1a1a1a">40</text>
<text x="392.7" y="459.7" font-size="9.8" text-anchor="middle" font-weight="bold" fill="#1a1a1a">50</text>
<text x="421.22" y="459.7" font-size="9.8" text-anchor="middle" font-weight="bold" fill="#1a1a1a">60</text>
<text x="215" y="385.4" font-size="9" text-anchor="middle" font-weight="bold" fill="#1a1a1a" transform="rotate(-90 215 385.4)">eCAP amplitude</text>
<text x="226.2" y="385.4" font-size="9" text-anchor="middle" font-weight="bold" fill="#1a1a1a" transform="rotate(-90 226.2 385.4)">(% of max response)</text>
<text x="335.66" y="476.3" font-size="10.5" text-anchor="middle" font-weight="bold" fill="#1a1a1a">Charge (<tspan font-weight="normal">μ</tspan>C)</text>
<text x="375" y="431.4" font-size="14" text-anchor="start" fill="#333">1ms</text>
<text x="231.2" y="485.9" font-size="17" text-anchor="start" fill="#1a1a1a">d<tspan dx="1.4" font-size="17.8">)</tspan></text>
<polyline points="250.1,447 250.33,447 250.55,447 250.78,447 251,447 251.22,447 251.45,447 251.67,447 251.9,447 252.12,447 252.34,447 252.57,447 252.79,447 253.02,447 253.24,447 253.47,447 253.69,447 253.91,447 254.14,447 254.36,447 254.59,447 254.81,447 255.04,447 255.26,447 255.48,447 255.71,447 255.93,447 256.16,447 256.38,447 256.6,447 256.83,447 257.05,447 257.28,447 257.5,447 257.73,447 257.95,447 258.17,447 258.4,447 258.62,447 258.85,447 259.07,447 259.29,447 259.52,447 259.74,447 259.97,447 260.19,447 260.42,447 260.64,447 260.86,447 261.09,447 261.31,447 261.54,447 261.76,447 261.99,446.99 262.21,446.99 262.43,446.99 262.66,446.99 262.88,446.99 263.11,446.98 263.33,446.98 263.55,446.97 263.78,446.97 264,446.96 264.23,446.95 264.45,446.94 264.68,446.93 264.9,446.91 265.12,446.89 265.35,446.87 265.57,446.84 265.8,446.81 266.02,446.77 266.24,446.73 266.47,446.67 266.69,446.61 266.92,446.54 267.14,446.45 267.37,446.35 267.59,446.23 267.81,446.09 268.04,445.93 268.26,445.75 268.49,445.53 268.71,445.29 268.94,445 269.16,444.68 269.38,444.3 269.61,443.88 269.83,443.39 270.06,442.85 270.28,442.22 270.5,441.52 270.73,440.73 270.95,439.84 271.18,438.85 271.4,437.75 271.63,436.53 271.85,435.17 272.07,433.68 272.3,432.05 272.52,430.27 272.75,428.34 272.97,426.26 273.2,424.02 273.42,421.63 273.64,419.1 273.87,416.42 274.09,413.62 274.32,410.7 274.54,407.67 274.76,404.57 274.99,401.39 275.21,398.18 275.44,394.93 275.66,391.69 275.89,388.46 276.11,385.28 276.33,382.15 276.56,379.09 276.78,376.13 277.01,373.26 277.23,370.51 277.45,367.89 277.68,365.39 277.9,363.02 278.13,360.79 278.35,358.69 278.58,356.72 278.8,354.88 279.02,353.16 279.25,351.57 279.47,350.1 279.7,348.73 279.92,347.47 280.15,346.3 280.37,345.23 280.59,344.24 280.82,343.34 281.04,342.51 281.27,341.74 281.49,341.04 281.71,340.4 281.94,339.81 282.16,339.28 282.39,338.78 282.61,338.33 282.84,337.92 283.06,337.54 283.28,337.2 283.51,336.88 283.73,336.59 283.96,336.33 284.18,336.08 284.4,335.86 284.63,335.66 284.85,335.47 285.08,335.3 285.3,335.14 285.53,335 285.75,334.87" fill="none" stroke="#ff8c00" stroke-width="1" stroke-linejoin="round"/>
<polyline points="250.1,447 250.73,447 251.36,447 251.99,447 252.61,447 253.24,447 253.87,447 254.5,447 255.13,447 255.75,447 256.38,447 257.01,447 257.64,447 258.26,447 258.89,447 259.52,447 260.15,447 260.78,447 261.4,447 262.03,447 262.66,447 263.29,447 263.91,447 264.54,447 265.17,447 265.8,447 266.43,447 267.05,447 267.68,447 268.31,447 268.94,447 269.56,447 270.19,447 270.82,447 271.45,447 272.08,446.99 272.7,446.99 273.33,446.99 273.96,446.99 274.59,446.98 275.21,446.98 275.84,446.97 276.47,446.96 277.1,446.95 277.73,446.94 278.35,446.93 278.98,446.91 279.61,446.89 280.24,446.86 280.86,446.83 281.49,446.79 282.12,446.75 282.75,446.7 283.38,446.63 284,446.56 284.63,446.47 285.26,446.37 285.89,446.24 286.51,446.1 287.14,445.93 287.77,445.74 288.4,445.52 289.03,445.26 289.65,444.97 290.28,444.63 290.91,444.24 291.54,443.79 292.16,443.29 292.79,442.72 293.42,442.08 294.05,441.35 294.68,440.54 295.3,439.64 295.93,438.63 296.56,437.51 297.19,436.27 297.81,434.92 298.44,433.43 299.07,431.81 299.7,430.05 300.33,428.16 300.95,426.12 301.58,423.95 302.21,421.64 302.84,419.21 303.46,416.65 304.09,413.98 304.72,411.2 305.35,408.34 305.98,405.41 306.6,402.42 307.23,399.39 307.86,396.34 308.49,393.29 309.11,390.26 309.74,387.25 310.37,384.29 311,381.4 311.63,378.58 312.25,375.84 312.88,373.2 313.51,370.66 314.14,368.23 314.76,365.92 315.39,363.72 316.02,361.63 316.65,359.67 317.28,357.81 317.9,356.07 318.53,354.44 319.16,352.91 319.79,351.49 320.41,350.16 321.04,348.92 321.67,347.77 322.3,346.7 322.93,345.71 323.55,344.8 324.18,343.95 324.81,343.16 325.44,342.43 326.06,341.76 326.69,341.14 327.32,340.56 327.95,340.03 328.58,339.54 329.2,339.09 329.83,338.67 330.46,338.28 331.09,337.92 331.71,337.59 332.34,337.29 332.97,337 333.6,336.74 334.23,336.5 334.85,336.28 335.48,336.07 336.11,335.88 336.74,335.7 337.36,335.54 337.99,335.39 338.62,335.25 339.25,335.11 339.88,334.99 340.5,334.88 341.13,334.78 341.76,334.68 342.39,334.59 343.01,334.51 343.64,334.43 344.27,334.36 344.9,334.29 345.53,334.23 346.15,334.17 346.78,334.11 347.41,334.06 348.04,334.02 348.66,333.97 349.29,333.93 349.92,333.89" fill="none" stroke="#a87c50" stroke-width="1" stroke-linejoin="round"/>
<polyline points="250.1,447 250.64,446.99 251.18,446.94 251.72,446.85 252.26,446.71 252.79,446.52 253.33,446.27 253.87,445.96 254.41,445.59 254.95,445.16 255.48,444.67 256.02,444.11 256.56,443.49 257.1,442.81 257.64,442.07 258.17,441.26 258.71,440.4 259.25,439.48 259.79,438.5 260.33,437.48 260.86,436.4 261.4,435.27 261.94,434.1 262.48,432.89 263.02,431.64 263.56,430.36 264.09,429.05 264.63,427.7 265.17,426.34 265.71,424.95 266.25,423.54 266.78,422.12 267.32,420.68 267.86,419.24 268.4,417.79 268.94,416.33 269.47,414.88 270.01,413.43 270.55,411.98 271.09,410.53 271.63,409.1 272.16,407.67 272.7,406.26 273.24,404.86 273.78,403.48 274.32,402.11 274.86,400.75 275.39,399.42 275.93,398.11 276.47,396.81 277.01,395.54 277.55,394.29 278.08,393.06 278.62,391.85 279.16,390.67 279.7,389.5 280.24,388.36 280.77,387.25 281.31,386.16 281.85,385.09 282.39,384.04 282.93,383.01 283.46,382.01 284,381.03 284.54,380.08 285.08,379.14 285.62,378.23 286.16,377.34 286.69,376.47 287.23,375.62 287.77,374.79 288.31,373.98 288.85,373.19 289.38,372.42 289.92,371.67 290.46,370.94 291,370.22 291.54,369.52 292.07,368.84 292.61,368.18 293.15,367.53 293.69,366.9 294.23,366.29 294.76,365.69 295.3,365.1 295.84,364.53 296.38,363.98 296.92,363.44 297.46,362.91 297.99,362.39 298.53,361.89 299.07,361.4 299.61,360.92 300.15,360.45 300.68,360 301.22,359.56 301.76,359.12 302.3,358.7 302.84,358.29 303.37,357.89 303.91,357.49 304.45,357.11 304.99,356.74 305.53,356.37 306.06,356.01 306.6,355.67 307.14,355.33 307.68,354.99 308.22,354.67 308.76,354.35 309.29,354.04 309.83,353.74 310.37,353.45 310.91,353.16 311.45,352.88 311.98,352.6 312.52,352.33 313.06,352.07 313.6,351.81 314.14,351.56 314.67,351.32 315.21,351.08 315.75,350.84 316.29,350.61 316.83,350.39 317.36,350.17 317.9,349.95 318.44,349.74 318.98,349.54 319.52,349.34 320.06,349.14 320.59,348.95 321.13,348.76 321.67,348.57 322.21,348.39 322.75,348.21 323.28,348.04 323.82,347.87 324.36,347.7 324.9,347.54 325.44,347.38 325.97,347.22 326.51,347.07 327.05,346.92 327.59,346.77 328.13,346.63 328.66,346.48 329.2,346.35 329.74,346.21 330.28,346.08 330.82,345.94 331.36,345.82 331.89,345.69 332.43,345.57 332.97,345.45 333.51,345.33 334.05,345.21 334.58,345.1 335.12,344.98 335.66,344.87" fill="none" stroke="#ff2a1a" stroke-width="1" stroke-linejoin="round"/>
<polyline points="250.1,447 250.64,447 251.18,447 251.72,447 252.26,447 252.79,447 253.33,447 253.87,447 254.41,446.99 254.95,446.99 255.48,446.99 256.02,446.98 256.56,446.97 257.1,446.95 257.64,446.93 258.17,446.91 258.71,446.88 259.25,446.84 259.79,446.79 260.33,446.74 260.86,446.67 261.4,446.59 261.94,446.49 262.48,446.38 263.02,446.25 263.56,446.1 264.09,445.93 264.63,445.73 265.17,445.51 265.71,445.26 266.25,444.97 266.78,444.66 267.32,444.31 267.86,443.92 268.4,443.49 268.94,443.02 269.47,442.5 270.01,441.94 270.55,441.32 271.09,440.66 271.63,439.94 272.16,439.17 272.7,438.34 273.24,437.46 273.78,436.51 274.32,435.51 274.86,434.44 275.39,433.32 275.93,432.14 276.47,430.9 277.01,429.6 277.55,428.25 278.08,426.84 278.62,425.38 279.16,423.87 279.7,422.31 280.24,420.71 280.77,419.06 281.31,417.38 281.85,415.67 282.39,413.92 282.93,412.15 283.46,410.36 284,408.55 284.54,406.72 285.08,404.89 285.62,403.05 286.16,401.22 286.69,399.38 287.23,397.56 287.77,395.74 288.31,393.94 288.85,392.15 289.38,390.39 289.92,388.65 290.46,386.94 291,385.25 291.54,383.6 292.07,381.97 292.61,380.38 293.15,378.83 293.69,377.31 294.23,375.83 294.76,374.39 295.3,372.99 295.84,371.63 296.38,370.3 296.92,369.01 297.46,367.77 297.99,366.56 298.53,365.39 299.07,364.25 299.61,363.16 300.15,362.1 300.68,361.08 301.22,360.09 301.76,359.14 302.3,358.22 302.84,357.33 303.37,356.48 303.91,355.65 304.45,354.86 304.99,354.1 305.53,353.36 306.06,352.65 306.6,351.97 307.14,351.31 307.68,350.68 308.22,350.08 308.76,349.49 309.29,348.93 309.83,348.39 310.37,347.87 310.91,347.37 311.45,346.89 311.98,346.42 312.52,345.98 313.06,345.55 313.6,345.14 314.14,344.74 314.67,344.36 315.21,343.99 315.75,343.64 316.29,343.3 316.83,342.97 317.36,342.66 317.9,342.35 318.44,342.06 318.98,341.78 319.52,341.51 320.06,341.25 320.59,341 321.13,340.75 321.67,340.52 322.21,340.3 322.75,340.08 323.28,339.87 323.82,339.67 324.36,339.48 324.9,339.29 325.44,339.11 325.97,338.93 326.51,338.77 327.05,338.61 327.59,338.45 328.13,338.3 328.66,338.15 329.2,338.01 329.74,337.88 330.28,337.74 330.82,337.62 331.36,337.49 331.89,337.38 332.43,337.26 332.97,337.15 333.51,337.04 334.05,336.94 334.58,336.84 335.12,336.74 335.66,336.65" fill="none" stroke="#0a32ff" stroke-width="1" stroke-linejoin="round"/>
<polyline points="250.1,447 250.64,447 251.18,447 251.72,447 252.26,447 252.79,447 253.33,447 253.87,447 254.41,447 254.95,447 255.48,447 256.02,447 256.56,447 257.1,447 257.64,447 258.17,447 258.71,447 259.25,447 259.79,447 260.33,447 260.86,447 261.4,447 261.94,447 262.48,447 263.02,447 263.56,447 264.09,447 264.63,447 265.17,447 265.71,447 266.25,447 266.78,447 267.32,447 267.86,447 268.4,447 268.94,447 269.47,447 270.01,447 270.55,447 271.09,447 271.63,447 272.16,447 272.7,447 273.24,447 273.78,447 274.32,447 274.86,447 275.39,447 275.93,447 276.47,447 277.01,447 277.55,447 278.08,447 278.62,447 279.16,447 279.7,447 280.24,447 280.77,447 281.31,447 281.85,447 282.39,447 282.93,447 283.46,447 284,447 284.54,447 285.08,447 285.62,446.99 286.16,446.99 286.69,446.99 287.23,446.99 287.77,446.99 288.31,446.98 288.85,446.98 289.38,446.97 289.92,446.97 290.46,446.96 291,446.95 291.54,446.94 292.07,446.93 292.61,446.91 293.15,446.89 293.69,446.87 294.23,446.84 294.76,446.81 295.3,446.78 295.84,446.73 296.38,446.68 296.92,446.62 297.46,446.55 297.99,446.47 298.53,446.37 299.07,446.26 299.61,446.12 300.15,445.97 300.68,445.8 301.22,445.59 301.76,445.35 302.3,445.08 302.84,444.77 303.37,444.41 303.91,444 304.45,443.53 304.99,443 305.53,442.4 306.06,441.71 306.6,440.94 307.14,440.07 307.68,439.09 308.22,438 308.76,436.79 309.29,435.44 309.83,433.95 310.37,432.32 310.91,430.53 311.45,428.58 311.98,426.46 312.52,424.19 313.06,421.75 313.6,419.15 314.14,416.41 314.67,413.52 315.21,410.51 315.75,407.38 316.29,404.17 316.83,400.88 317.36,397.54 317.9,394.18 318.44,390.82 318.98,387.48 319.52,384.18 320.06,380.94 320.59,377.8 321.13,374.75 321.67,371.81 322.21,369.01 322.75,366.33 323.28,363.8 323.82,361.41 324.36,359.17 324.9,357.07 325.44,355.11 325.97,353.29 326.51,351.6 327.05,350.04 327.59,348.6 328.13,347.28 328.66,346.07 329.2,344.95 329.74,343.93 330.28,343 330.82,342.14 331.36,341.36 331.89,340.65 332.43,340 332.97,339.41 333.51,338.88 334.05,338.39 334.58,337.94 335.12,337.53 335.66,337.16" fill="none" stroke="#8c288c" stroke-width="1" stroke-linejoin="round"/>
<polyline points="250.1,447 250.73,447 251.36,447 251.99,447 252.61,447 253.24,447 253.87,446.99 254.5,446.99 255.13,446.98 255.75,446.97 256.38,446.95 257.01,446.93 257.64,446.9 258.26,446.86 258.89,446.81 259.52,446.74 260.15,446.66 260.78,446.56 261.4,446.44 262.03,446.29 262.66,446.12 263.29,445.91 263.91,445.67 264.54,445.4 265.17,445.08 265.8,444.72 266.43,444.31 267.05,443.85 267.68,443.34 268.31,442.76 268.94,442.13 269.56,441.42 270.19,440.65 270.82,439.81 271.45,438.9 272.08,437.91 272.7,436.85 273.33,435.7 273.96,434.48 274.59,433.18 275.21,431.8 275.84,430.35 276.47,428.82 277.1,427.23 277.73,425.56 278.35,423.83 278.98,422.03 279.61,420.19 280.24,418.29 280.86,416.34 281.49,414.36 282.12,412.34 282.75,410.3 283.38,408.23 284,406.16 284.63,404.07 285.26,401.98 285.89,399.9 286.51,397.82 287.14,395.76 287.77,393.72 288.4,391.7 289.03,389.72 289.65,387.76 290.28,385.84 290.91,383.97 291.54,382.13 292.16,380.34 292.79,378.59 293.42,376.89 294.05,375.24 294.68,373.64 295.3,372.09 295.93,370.59 296.56,369.14 297.19,367.73 297.81,366.38 298.44,365.08 299.07,363.83 299.7,362.62 300.33,361.46 300.95,360.34 301.58,359.27 302.21,358.24 302.84,357.25 303.46,356.3 304.09,355.39 304.72,354.52 305.35,353.69 305.98,352.89 306.6,352.12 307.23,351.39 307.86,350.68 308.49,350.01 309.11,349.36 309.74,348.75 310.37,348.16 311,347.59 311.63,347.05 312.25,346.53 312.88,346.03 313.51,345.56 314.14,345.1 314.76,344.66 315.39,344.25 316.02,343.85 316.65,343.46 317.28,343.09 317.9,342.74 318.53,342.41 319.16,342.08 319.79,341.77 320.41,341.47 321.04,341.19 321.67,340.92 322.3,340.65 322.93,340.4 323.55,340.16 324.18,339.93 324.81,339.7 325.44,339.49 326.06,339.28 326.69,339.09 327.32,338.9 327.95,338.71 328.58,338.54 329.2,338.37 329.83,338.21 330.46,338.05 331.09,337.9 331.71,337.76 332.34,337.62 332.97,337.49 333.6,337.36 334.23,337.23 334.85,337.11 335.48,337 336.11,336.89 336.74,336.78 337.36,336.68 337.99,336.58 338.62,336.48 339.25,336.39 339.88,336.3 340.5,336.21 341.13,336.13 341.76,336.05 342.39,335.97 343.01,335.9 343.64,335.82 344.27,335.75 344.9,335.69 345.53,335.62 346.15,335.56 346.78,335.5 347.41,335.44 348.04,335.38 348.66,335.32 349.29,335.27 349.92,335.22" fill="none" stroke="#ff44ff" stroke-width="1" stroke-linejoin="round"/>
<polyline points="250.1,447 251,447 251.9,447 252.79,447 253.69,447 254.59,447 255.48,447 256.38,447 257.28,447 258.17,447 259.07,447 259.97,447 260.86,447 261.76,447 262.66,447 263.56,447 264.45,447 265.35,447 266.25,446.99 267.14,446.99 268.04,446.99 268.94,446.99 269.83,446.98 270.73,446.98 271.63,446.97 272.52,446.96 273.42,446.95 274.32,446.94 275.21,446.93 276.11,446.91 277.01,446.89 277.9,446.87 278.8,446.85 279.7,446.81 280.6,446.78 281.49,446.74 282.39,446.69 283.29,446.64 284.18,446.58 285.08,446.51 285.98,446.43 286.87,446.34 287.77,446.24 288.67,446.12 289.56,446 290.46,445.86 291.36,445.7 292.25,445.52 293.15,445.33 294.05,445.12 294.94,444.89 295.84,444.63 296.74,444.35 297.64,444.04 298.53,443.71 299.43,443.34 300.33,442.95 301.22,442.52 302.12,442.06 303.02,441.56 303.91,441.02 304.81,440.44 305.71,439.82 306.6,439.16 307.5,438.46 308.4,437.71 309.29,436.91 310.19,436.06 311.09,435.17 311.98,434.22 312.88,433.23 313.78,432.18 314.68,431.08 315.57,429.94 316.47,428.74 317.37,427.49 318.26,426.2 319.16,424.86 320.06,423.47 320.95,422.03 321.85,420.56 322.75,419.04 323.64,417.49 324.54,415.9 325.44,414.28 326.33,412.62 327.23,410.95 328.13,409.25 329.02,407.53 329.92,405.79 330.82,404.05 331.72,402.29 332.61,400.53 333.51,398.77 334.41,397.01 335.3,395.25 336.2,393.51 337.1,391.77 337.99,390.05 338.89,388.35 339.79,386.67 340.68,385.01 341.58,383.38 342.48,381.77 343.37,380.19 344.27,378.64 345.17,377.13 346.06,375.65 346.96,374.2 347.86,372.78 348.75,371.41 349.65,370.07 350.55,368.76 351.45,367.5 352.34,366.27 353.24,365.07 354.14,363.92 355.03,362.8 355.93,361.71 356.83,360.67 357.72,359.65 358.62,358.67 359.52,357.73 360.41,356.82 361.31,355.94 362.21,355.09 363.1,354.28 364,353.49 364.9,352.73 365.79,352.01 366.69,351.3 367.59,350.63 368.49,349.98 369.38,349.36 370.28,348.76 371.18,348.18 372.07,347.63 372.97,347.09 373.87,346.58 374.76,346.09 375.66,345.62 376.56,345.16 377.45,344.73 378.35,344.31 379.25,343.91 380.14,343.52 381.04,343.15 381.94,342.79 382.83,342.45 383.73,342.12 384.63,341.81 385.53,341.5 386.42,341.21 387.32,340.93 388.22,340.66 389.11,340.4 390.01,340.16 390.91,339.92 391.8,339.69 392.7,339.47" fill="none" stroke="#00ee00" stroke-width="1" stroke-linejoin="round"/>
<circle cx="272.06" cy="436.65" r="1.77" fill="none" stroke="#ff8c00" stroke-width="1.22"/>
<circle cx="278.62" cy="347.51" r="1.77" fill="none" stroke="#ff8c00" stroke-width="1.22"/>
<circle cx="285.75" cy="370.82" r="1.77" fill="none" stroke="#ff8c00" stroke-width="1.22"/>
<line x1="276.17" y1="442.91" x2="281.07" y2="442.91" stroke="#a87c50" stroke-width="1.5"/>
<line x1="278.62" y1="440.46" x2="278.62" y2="445.35" stroke="#a87c50" stroke-width="1.5"/>
<line x1="290.43" y1="434.61" x2="295.33" y2="434.61" stroke="#a87c50" stroke-width="1.5"/>
<line x1="292.88" y1="432.16" x2="292.88" y2="437.05" stroke="#a87c50" stroke-width="1.5"/>
<line x1="304.98" y1="390.15" x2="309.87" y2="390.15" stroke="#a87c50" stroke-width="1.5"/>
<line x1="307.43" y1="387.7" x2="307.43" y2="392.6" stroke="#a87c50" stroke-width="1.5"/>
<line x1="318.95" y1="341.83" x2="323.85" y2="341.83" stroke="#a87c50" stroke-width="1.5"/>
<line x1="321.4" y1="339.38" x2="321.4" y2="344.28" stroke="#a87c50" stroke-width="1.5"/>
<line x1="347.76" y1="332.96" x2="352.65" y2="332.96" stroke="#a87c50" stroke-width="1.5"/>
<line x1="350.21" y1="330.51" x2="350.21" y2="335.41" stroke="#a87c50" stroke-width="1.5"/>
<polygon points="278.62,406.14 279.27,407.9 281.14,407.98 279.68,409.14 280.18,410.94 278.62,409.91 277.06,410.94 277.56,409.14 276.1,407.98 277.97,407.9" fill="#ff2a1a"/>
<polygon points="293.17,352.25 293.82,354 295.69,354.08 294.22,355.25 294.72,357.05 293.17,356.02 291.61,357.05 292.11,355.25 290.64,354.08 292.51,354" fill="#ff2a1a"/>
<polygon points="300.3,348.39 300.95,350.14 302.82,350.22 301.35,351.38 301.85,353.18 300.3,352.15 298.74,353.18 299.24,351.38 297.77,350.22 299.64,350.14" fill="#ff2a1a"/>
<polygon points="314.27,349.52 314.92,351.27 316.79,351.35 315.33,352.52 315.83,354.32 314.27,353.29 312.71,354.32 313.21,352.52 311.75,351.35 313.62,351.27" fill="#ff2a1a"/>
<polygon points="321.4,354.18 322.05,355.93 323.92,356.02 322.46,357.18 322.96,358.98 321.4,357.95 319.84,358.98 320.34,357.18 318.88,356.02 320.75,355.93" fill="#ff2a1a"/>
<polygon points="335.09,380.11 335.74,381.86 337.61,381.94 336.15,383.1 336.65,384.91 335.09,383.87 333.53,384.91 334.03,383.1 332.57,381.94 334.43,381.86" fill="#ff2a1a"/>
<circle cx="264.93" cy="441.09" r="2.45" fill="#0a32ff" stroke="none" stroke-width="0"/>
<circle cx="278.62" cy="419.14" r="2.45" fill="#0a32ff" stroke="none" stroke-width="0"/>
<circle cx="292.88" cy="387.53" r="2.45" fill="#0a32ff" stroke="none" stroke-width="0"/>
<circle cx="300.3" cy="379.23" r="2.45" fill="#0a32ff" stroke="none" stroke-width="0"/>
<circle cx="307.14" cy="333.3" r="2.45" fill="#0a32ff" stroke="none" stroke-width="0"/>
<circle cx="321.4" cy="348.76" r="2.45" fill="#0a32ff" stroke="none" stroke-width="0"/>
<polygon points="304.62,425.58 309.66,425.58 307.14,430.48" fill="#8c288c"/>
<polygon points="311.47,410.46 316.5,410.46 313.98,415.36" fill="#8c288c"/>
<polygon points="318.88,372.03 323.92,372.03 321.4,376.92" fill="#8c288c"/>
<polygon points="326.01,332.57 331.05,332.57 328.53,337.47" fill="#8c288c"/>
<polygon points="333.14,331.67 338.18,331.67 335.66,336.56" fill="#8c288c"/>
<polygon points="339.99,352.13 345.02,352.13 342.5,357.03" fill="#8c288c"/>
<polygon points="252.95,444.48 254.96,447 252.95,449.52 250.95,447" fill="#ff44ff"/>
<polygon points="264.93,441.76 266.94,444.27 264.93,446.79 262.92,444.27" fill="#ff44ff"/>
<polygon points="272.06,430.27 274.07,432.79 272.06,435.3 270.05,432.79" fill="#ff44ff"/>
<polygon points="278.62,424.93 280.63,427.44 278.62,429.96 276.61,427.44" fill="#ff44ff"/>
<polygon points="285.75,392.18 287.76,394.7 285.75,397.21 283.74,394.7" fill="#ff44ff"/>
<polygon points="292.88,395.82 294.89,398.34 292.88,400.85 290.87,398.34" fill="#ff44ff"/>
<polygon points="300.3,359.32 302.3,361.84 300.3,364.35 298.29,361.84" fill="#ff44ff"/>
<polygon points="307.43,342.95 309.43,345.47 307.43,347.98 305.42,345.47" fill="#ff44ff"/>
<polygon points="314.27,343.52 316.28,346.03 314.27,348.55 312.26,346.03" fill="#ff44ff"/>
<polygon points="321.4,333.85 323.41,336.37 321.4,338.89 319.39,336.37" fill="#ff44ff"/>
<polygon points="335.66,330.78 337.67,333.3 335.66,335.82 333.65,333.3" fill="#ff44ff"/>
<polygon points="349.92,348.63 351.93,351.15 349.92,353.67 347.91,351.15" fill="#ff44ff"/>
<rect x="290.5" y="444.62" width="4.76" height="4.76" fill="#00ee00"/>
<rect x="304.76" y="444.05" width="4.76" height="4.76" fill="#00ee00"/>
<rect x="319.02" y="398.46" width="4.76" height="4.76" fill="#00ee00"/>
<rect x="333.28" y="419.38" width="4.76" height="4.76" fill="#00ee00"/>
<rect x="347.54" y="344.56" width="4.76" height="4.76" fill="#00ee00"/>
<rect x="361.8" y="353.09" width="4.76" height="4.76" fill="#00ee00"/>
<rect x="376.06" y="329.9" width="4.76" height="4.76" fill="#00ee00"/>
<rect x="390.32" y="352.52" width="4.76" height="4.76" fill="#00ee00"/>
<line x1="459.4" y1="333" x2="459.4" y2="447" stroke="#000" stroke-width="1.4"/>
<line x1="459.4" y1="446.4" x2="630.24" y2="446.4" stroke="#000" stroke-width="1.4"/>
<line x1="454.8" y1="446.4" x2="459.4" y2="446.4" stroke="#000" stroke-width="1.1"/>
<line x1="454.8" y1="423.84" x2="459.4" y2="423.84" stroke="#000" stroke-width="1.1"/>
<line x1="454.8" y1="401.28" x2="459.4" y2="401.28" stroke="#000" stroke-width="1.1"/>
<line x1="454.8" y1="378.72" x2="459.4" y2="378.72" stroke="#000" stroke-width="1.1"/>
<line x1="454.8" y1="356.16" x2="459.4" y2="356.16" stroke="#000" stroke-width="1.1"/>
<line x1="454.8" y1="333.6" x2="459.4" y2="333.6" stroke="#000" stroke-width="1.1"/>
<line x1="459.4" y1="446.4" x2="459.4" y2="451.2" stroke="#000" stroke-width="1.1"/>
<line x1="465.08" y1="446.4" x2="465.08" y2="449.2" stroke="#000" stroke-width="1.1"/>
<line x1="470.76" y1="446.4" x2="470.76" y2="449.2" stroke="#000" stroke-width="1.1"/>
<line x1="476.43" y1="446.4" x2="476.43" y2="449.2" stroke="#000" stroke-width="1.1"/>
<line x1="482.11" y1="446.4" x2="482.11" y2="449.2" stroke="#000" stroke-width="1.1"/>
<line x1="487.79" y1="446.4" x2="487.79" y2="451.2" stroke="#000" stroke-width="1.1"/>
<line x1="493.47" y1="446.4" x2="493.47" y2="449.2" stroke="#000" stroke-width="1.1"/>
<line x1="499.15" y1="446.4" x2="499.15" y2="449.2" stroke="#000" stroke-width="1.1"/>
<line x1="504.82" y1="446.4" x2="504.82" y2="449.2" stroke="#000" stroke-width="1.1"/>
<line x1="510.5" y1="446.4" x2="510.5" y2="449.2" stroke="#000" stroke-width="1.1"/>
<line x1="516.18" y1="446.4" x2="516.18" y2="451.2" stroke="#000" stroke-width="1.1"/>
<line x1="521.86" y1="446.4" x2="521.86" y2="449.2" stroke="#000" stroke-width="1.1"/>
<line x1="527.54" y1="446.4" x2="527.54" y2="449.2" stroke="#000" stroke-width="1.1"/>
<line x1="533.21" y1="446.4" x2="533.21" y2="449.2" stroke="#000" stroke-width="1.1"/>
<line x1="538.89" y1="446.4" x2="538.89" y2="449.2" stroke="#000" stroke-width="1.1"/>
<line x1="544.57" y1="446.4" x2="544.57" y2="451.2" stroke="#000" stroke-width="1.1"/>
<line x1="550.25" y1="446.4" x2="550.25" y2="449.2" stroke="#000" stroke-width="1.1"/>
<line x1="555.93" y1="446.4" x2="555.93" y2="449.2" stroke="#000" stroke-width="1.1"/>
<line x1="561.6" y1="446.4" x2="561.6" y2="449.2" stroke="#000" stroke-width="1.1"/>
<line x1="567.28" y1="446.4" x2="567.28" y2="449.2" stroke="#000" stroke-width="1.1"/>
<line x1="572.96" y1="446.4" x2="572.96" y2="451.2" stroke="#000" stroke-width="1.1"/>
<line x1="578.64" y1="446.4" x2="578.64" y2="449.2" stroke="#000" stroke-width="1.1"/>
<line x1="584.32" y1="446.4" x2="584.32" y2="449.2" stroke="#000" stroke-width="1.1"/>
<line x1="589.99" y1="446.4" x2="589.99" y2="449.2" stroke="#000" stroke-width="1.1"/>
<line x1="595.67" y1="446.4" x2="595.67" y2="449.2" stroke="#000" stroke-width="1.1"/>
<line x1="601.35" y1="446.4" x2="601.35" y2="451.2" stroke="#000" stroke-width="1.1"/>
<line x1="607.03" y1="446.4" x2="607.03" y2="449.2" stroke="#000" stroke-width="1.1"/>
<line x1="612.71" y1="446.4" x2="612.71" y2="449.2" stroke="#000" stroke-width="1.1"/>
<line x1="618.38" y1="446.4" x2="618.38" y2="449.2" stroke="#000" stroke-width="1.1"/>
<line x1="624.06" y1="446.4" x2="624.06" y2="449.2" stroke="#000" stroke-width="1.1"/>
<line x1="629.74" y1="446.4" x2="629.74" y2="451.2" stroke="#000" stroke-width="1.1"/>
<text x="454.1" y="448.98" font-size="9.8" text-anchor="end" font-weight="bold" fill="#1a1a1a">0</text>
<text x="454.1" y="426.42" font-size="9.8" text-anchor="end" font-weight="bold" fill="#1a1a1a">20</text>
<text x="454.1" y="403.86" font-size="9.8" text-anchor="end" font-weight="bold" fill="#1a1a1a">40</text>
<text x="454.1" y="381.3" font-size="9.8" text-anchor="end" font-weight="bold" fill="#1a1a1a">60</text>
<text x="454.1" y="358.74" font-size="9.8" text-anchor="end" font-weight="bold" fill="#1a1a1a">80</text>
<text x="454.1" y="336.18" font-size="9.8" text-anchor="end" font-weight="bold" fill="#1a1a1a">100</text>
<text x="459.4" y="459.1" font-size="9.8" text-anchor="middle" font-weight="bold" fill="#1a1a1a">0</text>
<text x="487.79" y="459.1" font-size="9.8" text-anchor="middle" font-weight="bold" fill="#1a1a1a">10</text>
<text x="516.18" y="459.1" font-size="9.8" text-anchor="middle" font-weight="bold" fill="#1a1a1a">20</text>
<text x="544.57" y="459.1" font-size="9.8" text-anchor="middle" font-weight="bold" fill="#1a1a1a">30</text>
<text x="572.96" y="459.1" font-size="9.8" text-anchor="middle" font-weight="bold" fill="#1a1a1a">40</text>
<text x="601.35" y="459.1" font-size="9.8" text-anchor="middle" font-weight="bold" fill="#1a1a1a">50</text>
<text x="629.74" y="459.1" font-size="9.8" text-anchor="middle" font-weight="bold" fill="#1a1a1a">60</text>
<text x="422.4" y="387.4" font-size="9" text-anchor="middle" font-weight="bold" fill="#1a1a1a" transform="rotate(-90 422.4 387.4)">eCAP amplitude</text>
<text x="433.6" y="387.4" font-size="9" text-anchor="middle" font-weight="bold" fill="#1a1a1a" transform="rotate(-90 433.6 387.4)">(% of max response)</text>
<text x="544.57" y="476.3" font-size="10.5" text-anchor="middle" font-weight="bold" fill="#1a1a1a">Charge (<tspan font-weight="normal">μ</tspan>C)</text>
<text x="591.5" y="431.4" font-size="14" text-anchor="start" fill="#333">2ms</text>
<text x="435.2" y="485.9" font-size="17" text-anchor="start" fill="#1a1a1a">e<tspan dx="1.4" font-size="17.8">)</tspan></text>
<polyline points="459.4,446.4 459.94,446.4 460.47,446.4 461.01,446.4 461.55,446.4 462.08,446.4 462.62,446.4 463.15,446.4 463.69,446.4 464.22,446.4 464.76,446.4 465.29,446.4 465.83,446.4 466.37,446.4 466.9,446.4 467.44,446.4 467.97,446.4 468.51,446.4 469.04,446.4 469.58,446.4 470.12,446.4 470.65,446.4 471.19,446.4 471.72,446.4 472.26,446.4 472.79,446.4 473.33,446.4 473.87,446.4 474.4,446.4 474.94,446.4 475.47,446.4 476.01,446.4 476.54,446.4 477.08,446.4 477.61,446.4 478.15,446.4 478.69,446.4 479.22,446.4 479.76,446.4 480.29,446.4 480.83,446.4 481.36,446.4 481.9,446.4 482.44,446.4 482.97,446.4 483.51,446.39 484.04,446.39 484.58,446.39 485.11,446.39 485.65,446.38 486.18,446.38 486.72,446.37 487.26,446.37 487.79,446.36 488.33,446.35 488.86,446.33 489.4,446.32 489.93,446.3 490.47,446.27 491.01,446.24 491.54,446.2 492.08,446.16 492.61,446.1 493.15,446.03 493.68,445.96 494.22,445.86 494.76,445.75 495.29,445.61 495.83,445.46 496.36,445.27 496.9,445.05 497.43,444.79 497.97,444.49 498.5,444.14 499.04,443.73 499.58,443.25 500.11,442.7 500.65,442.07 501.18,441.35 501.72,440.52 502.25,439.58 502.79,438.52 503.33,437.32 503.86,435.97 504.4,434.46 504.93,432.79 505.47,430.94 506,428.91 506.54,426.69 507.08,424.29 507.61,421.7 508.15,418.93 508.68,415.99 509.22,412.9 509.75,409.67 510.29,406.32 510.82,402.88 511.36,399.37 511.9,395.82 512.43,392.26 512.97,388.72 513.5,385.23 514.04,381.8 514.57,378.47 515.11,375.25 515.65,372.16 516.18,369.21 516.72,366.41 517.25,363.78 517.79,361.3 518.32,358.98 518.86,356.83 519.39,354.83 519.93,352.98 520.47,351.27 521,349.71 521.54,348.27 522.07,346.95 522.61,345.75 523.14,344.65 523.68,343.65 524.22,342.74 524.75,341.92 525.29,341.16 525.82,340.48 526.36,339.86 526.89,339.3 527.43,338.78 527.97,338.32 528.5,337.9 529.04,337.52 529.57,337.17 530.11,336.86 530.64,336.57 531.18,336.31 531.71,336.08 532.25,335.86 532.79,335.67 533.32,335.49 533.86,335.33 534.39,335.18 534.93,335.05 535.46,334.93 536,334.82 536.54,334.72 537.07,334.63 537.61,334.54 538.14,334.47 538.68,334.4 539.21,334.33 539.75,334.27 540.28,334.22 540.82,334.17 541.36,334.13 541.89,334.09 542.43,334.05 542.96,334.01 543.5,333.98 544.03,333.95 544.57,333.93" fill="none" stroke="#000000" stroke-width="1" stroke-linejoin="round"/>
<polyline points="459.4,446.4 459.85,446.4 460.3,446.4 460.74,446.39 461.19,446.38 461.63,446.37 462.08,446.34 462.53,446.3 462.97,446.26 463.42,446.19 463.87,446.11 464.31,446.01 464.76,445.9 465.21,445.76 465.65,445.59 466.1,445.4 466.54,445.18 466.99,444.93 467.44,444.65 467.88,444.34 468.33,443.99 468.78,443.61 469.22,443.18 469.67,442.72 470.12,442.23 470.56,441.69 471.01,441.11 471.45,440.48 471.9,439.82 472.35,439.11 472.79,438.36 473.24,437.57 473.69,436.73 474.13,435.86 474.58,434.94 475.03,433.98 475.47,432.98 475.92,431.94 476.36,430.87 476.81,429.76 477.26,428.62 477.7,427.44 478.15,426.23 478.6,425 479.04,423.73 479.49,422.44 479.94,421.13 480.38,419.8 480.83,418.45 481.27,417.09 481.72,415.71 482.17,414.32 482.61,412.92 483.06,411.51 483.51,410.1 483.95,408.69 484.4,407.27 484.85,405.86 485.29,404.45 485.74,403.04 486.18,401.65 486.63,400.26 487.08,398.88 487.52,397.51 487.97,396.15 488.42,394.81 488.86,393.48 489.31,392.17 489.76,390.88 490.2,389.6 490.65,388.34 491.09,387.1 491.54,385.89 491.99,384.69 492.43,383.51 492.88,382.36 493.33,381.22 493.77,380.11 494.22,379.02 494.67,377.96 495.11,376.91 495.56,375.89 496,374.89 496.45,373.91 496.9,372.95 497.34,372.02 497.79,371.11 498.24,370.21 498.68,369.34 499.13,368.49 499.58,367.66 500.02,366.86 500.47,366.07 500.91,365.3 501.36,364.55 501.81,363.82 502.25,363.1 502.7,362.41 503.15,361.73 503.59,361.07 504.04,360.43 504.49,359.81 504.93,359.2 505.38,358.6 505.82,358.02 506.27,357.46 506.72,356.91 507.16,356.38 507.61,355.86 508.06,355.35 508.5,354.86 508.95,354.38 509.4,353.91 509.84,353.46 510.29,353.02 510.73,352.59 511.18,352.17 511.63,351.76 512.07,351.36 512.52,350.97 512.97,350.59 513.41,350.22 513.86,349.87 514.31,349.52 514.75,349.18 515.2,348.85 515.64,348.52 516.09,348.21 516.54,347.9 516.98,347.6 517.43,347.31 517.88,347.03 518.32,346.75 518.77,346.48 519.22,346.22 519.66,345.96 520.11,345.71 520.55,345.47 521,345.23 521.45,345 521.89,344.78 522.34,344.56 522.79,344.34 523.23,344.13 523.68,343.93 524.13,343.73 524.57,343.53 525.02,343.34 525.46,343.16 525.91,342.98 526.36,342.8 526.8,342.63 527.25,342.46 527.7,342.29 528.14,342.13 528.59,341.98 529.04,341.82 529.48,341.67 529.93,341.53 530.38,341.38" fill="none" stroke="#ff8c00" stroke-width="1" stroke-linejoin="round"/>
<polyline points="459.4,446.4 460.12,446.4 460.83,446.4 461.55,446.4 462.26,446.4 462.97,446.4 463.69,446.4 464.4,446.4 465.12,446.4 465.83,446.4 466.54,446.4 467.26,446.4 467.97,446.4 468.69,446.4 469.4,446.4 470.12,446.4 470.83,446.4 471.54,446.4 472.26,446.39 472.97,446.39 473.69,446.39 474.4,446.38 475.12,446.37 475.83,446.36 476.54,446.35 477.26,446.34 477.97,446.32 478.69,446.3 479.4,446.27 480.11,446.24 480.83,446.2 481.54,446.16 482.26,446.1 482.97,446.03 483.69,445.95 484.4,445.86 485.11,445.76 485.83,445.63 486.54,445.49 487.26,445.32 487.97,445.13 488.68,444.91 489.4,444.66 490.11,444.38 490.83,444.06 491.54,443.7 492.26,443.3 492.97,442.85 493.68,442.35 494.4,441.79 495.11,441.17 495.83,440.49 496.54,439.75 497.26,438.93 497.97,438.04 498.68,437.06 499.4,436.01 500.11,434.88 500.83,433.66 501.54,432.35 502.25,430.95 502.97,429.46 503.68,427.89 504.4,426.22 505.11,424.48 505.83,422.65 506.54,420.74 507.25,418.76 507.97,416.7 508.68,414.59 509.4,412.42 510.11,410.2 510.82,407.94 511.54,405.65 512.25,403.34 512.97,401.01 513.68,398.67 514.4,396.34 515.11,394.01 515.82,391.7 516.54,389.42 517.25,387.17 517.97,384.96 518.68,382.79 519.4,380.67 520.11,378.61 520.82,376.6 521.54,374.65 522.25,372.77 522.97,370.95 523.68,369.19 524.39,367.51 525.11,365.89 525.82,364.33 526.54,362.85 527.25,361.42 527.97,360.07 528.68,358.77 529.39,357.54 530.11,356.36 530.82,355.25 531.54,354.18 532.25,353.18 532.97,352.22 533.68,351.31 534.39,350.45 535.11,349.64 535.82,348.87 536.54,348.14 537.25,347.45 537.96,346.79 538.68,346.18 539.39,345.59 540.11,345.04 540.82,344.51 541.54,344.02 542.25,343.55 542.96,343.11 543.68,342.69 544.39,342.29 545.11,341.92 545.82,341.56 546.53,341.23 547.25,340.91 547.96,340.61 548.68,340.33 549.39,340.06 550.11,339.8 550.82,339.56 551.53,339.33 552.25,339.12 552.96,338.91 553.68,338.72 554.39,338.53 555.11,338.36 555.82,338.19 556.53,338.03 557.25,337.88 557.96,337.74 558.68,337.61 559.39,337.48 560.1,337.36 560.82,337.24 561.53,337.13 562.25,337.03 562.96,336.93 563.68,336.84 564.39,336.75 565.1,336.66 565.82,336.58 566.53,336.5 567.25,336.43 567.96,336.36 568.67,336.29 569.39,336.23 570.1,336.17 570.82,336.11 571.53,336.05 572.25,336 572.96,335.95" fill="none" stroke="#a87c50" stroke-width="1" stroke-linejoin="round"/>
<polyline points="459.4,446.4 460.3,446.39 461.19,446.35 462.08,446.28 462.97,446.18 463.87,446.03 464.76,445.83 465.65,445.59 466.54,445.31 467.44,444.97 468.33,444.58 469.22,444.15 470.12,443.66 471.01,443.12 471.9,442.53 472.79,441.9 473.69,441.21 474.58,440.47 475.47,439.69 476.37,438.86 477.26,437.99 478.15,437.07 479.04,436.11 479.94,435.12 480.83,434.08 481.72,433.01 482.61,431.91 483.51,430.78 484.4,429.62 485.29,428.43 486.19,427.23 487.08,426 487.97,424.75 488.86,423.48 489.76,422.2 490.65,420.91 491.54,419.61 492.43,418.3 493.33,416.99 494.22,415.67 495.11,414.35 496.01,413.03 496.9,411.72 497.79,410.4 498.68,409.1 499.58,407.79 500.47,406.5 501.36,405.22 502.25,403.94 503.15,402.68 504.04,401.43 504.93,400.19 505.83,398.97 506.72,397.76 507.61,396.57 508.5,395.39 509.4,394.23 510.29,393.09 511.18,391.96 512.08,390.85 512.97,389.76 513.86,388.69 514.75,387.64 515.65,386.6 516.54,385.59 517.43,384.59 518.32,383.61 519.22,382.65 520.11,381.71 521,380.78 521.9,379.88 522.79,378.99 523.68,378.12 524.57,377.27 525.47,376.43 526.36,375.62 527.25,374.82 528.14,374.03 529.04,373.27 529.93,372.52 530.82,371.78 531.72,371.06 532.61,370.36 533.5,369.67 534.39,369 535.29,368.34 536.18,367.7 537.07,367.07 537.96,366.46 538.86,365.85 539.75,365.27 540.64,364.69 541.54,364.13 542.43,363.58 543.32,363.04 544.21,362.51 545.11,362 546,361.49 546.89,361 547.79,360.52 548.68,360.05 549.57,359.59 550.46,359.14 551.36,358.7 552.25,358.27 553.14,357.84 554.03,357.43 554.93,357.03 555.82,356.63 556.71,356.25 557.61,355.87 558.5,355.5 559.39,355.14 560.28,354.78 561.18,354.44 562.07,354.1 562.96,353.77 563.85,353.44 564.75,353.12 565.64,352.81 566.53,352.51 567.43,352.21 568.32,351.92 569.21,351.63 570.1,351.35 571,351.08 571.89,350.81 572.78,350.54 573.67,350.29 574.57,350.03 575.46,349.79 576.35,349.54 577.25,349.3 578.14,349.07 579.03,348.84 579.92,348.62 580.82,348.4 581.71,348.18 582.6,347.97 583.5,347.77 584.39,347.56 585.28,347.36 586.17,347.17 587.07,346.98 587.96,346.79 588.85,346.6 589.74,346.42 590.64,346.25 591.53,346.07 592.42,345.9 593.32,345.73 594.21,345.57 595.1,345.41 595.99,345.25 596.89,345.09 597.78,344.94 598.67,344.79 599.56,344.64 600.46,344.5 601.35,344.36" fill="none" stroke="#ff2a1a" stroke-width="1" stroke-linejoin="round"/>
<polyline points="459.4,446.4 460.03,446.4 460.65,446.39 461.28,446.38 461.9,446.36 462.53,446.32 463.15,446.26 463.78,446.18 464.4,446.08 465.03,445.94 465.65,445.77 466.28,445.56 466.9,445.31 467.53,445.02 468.15,444.69 468.78,444.3 469.4,443.86 470.03,443.37 470.65,442.82 471.28,442.22 471.9,441.55 472.53,440.82 473.15,440.04 473.78,439.19 474.4,438.28 475.03,437.31 475.65,436.28 476.28,435.19 476.9,434.04 477.53,432.84 478.15,431.58 478.78,430.27 479.4,428.92 480.03,427.51 480.65,426.07 481.28,424.59 481.9,423.07 482.52,421.52 483.15,419.95 483.77,418.35 484.4,416.73 485.02,415.09 485.65,413.44 486.27,411.79 486.9,410.13 487.52,408.47 488.15,406.81 488.77,405.15 489.4,403.51 490.02,401.87 490.65,400.25 491.27,398.65 491.9,397.06 492.52,395.5 493.15,393.95 493.77,392.44 494.4,390.94 495.02,389.47 495.65,388.04 496.27,386.63 496.9,385.24 497.52,383.89 498.15,382.57 498.77,381.28 499.4,380.02 500.02,378.8 500.65,377.6 501.27,376.44 501.9,375.3 502.52,374.2 503.15,373.12 503.77,372.08 504.4,371.07 505.02,370.08 505.65,369.12 506.27,368.19 506.9,367.29 507.52,366.42 508.15,365.57 508.77,364.75 509.4,363.95 510.02,363.18 510.65,362.43 511.27,361.7 511.9,360.99 512.52,360.31 513.15,359.65 513.77,359.01 514.4,358.39 515.02,357.78 515.65,357.2 516.27,356.64 516.9,356.09 517.52,355.56 518.15,355.04 518.77,354.55 519.4,354.06 520.02,353.6 520.64,353.14 521.27,352.7 521.89,352.28 522.52,351.86 523.14,351.46 523.77,351.07 524.39,350.7 525.02,350.33 525.64,349.98 526.27,349.64 526.89,349.3 527.52,348.98 528.14,348.67 528.77,348.36 529.39,348.07 530.02,347.78 530.64,347.5 531.27,347.23 531.89,346.97 532.52,346.71 533.14,346.47 533.77,346.23 534.39,345.99 535.02,345.77 535.64,345.55 536.27,345.33 536.89,345.12 537.52,344.92 538.14,344.72 538.77,344.53 539.39,344.35 540.02,344.16 540.64,343.99 541.27,343.82 541.89,343.65 542.52,343.49 543.14,343.33 543.77,343.18 544.39,343.03 545.02,342.88 545.64,342.74 546.27,342.6 546.89,342.46 547.52,342.33 548.14,342.2 548.77,342.08 549.39,341.96 550.02,341.84 550.64,341.72 551.27,341.61 551.89,341.5 552.52,341.39 553.14,341.29 553.77,341.19 554.39,341.09 555.02,340.99 555.64,340.9 556.27,340.8 556.89,340.71 557.52,340.62 558.14,340.54 558.76,340.45" fill="none" stroke="#0a32ff" stroke-width="1" stroke-linejoin="round"/>
<polyline points="459.4,446.4 460.03,446.4 460.65,446.4 461.28,446.4 461.9,446.4 462.53,446.4 463.15,446.4 463.78,446.4 464.4,446.4 465.03,446.4 465.65,446.4 466.28,446.4 466.9,446.4 467.53,446.4 468.15,446.4 468.78,446.4 469.4,446.4 470.03,446.39 470.65,446.39 471.28,446.39 471.9,446.39 472.53,446.38 473.15,446.38 473.78,446.37 474.4,446.36 475.03,446.35 475.65,446.34 476.28,446.33 476.9,446.31 477.53,446.29 478.15,446.27 478.78,446.24 479.4,446.21 480.03,446.17 480.65,446.13 481.28,446.08 481.9,446.03 482.52,445.97 483.15,445.9 483.77,445.82 484.4,445.73 485.02,445.64 485.65,445.53 486.27,445.41 486.9,445.27 487.52,445.12 488.15,444.96 488.77,444.77 489.4,444.57 490.02,444.35 490.65,444.11 491.27,443.85 491.9,443.57 492.52,443.26 493.15,442.92 493.77,442.56 494.4,442.16 495.02,441.74 495.65,441.28 496.27,440.8 496.9,440.27 497.52,439.71 498.15,439.12 498.77,438.48 499.4,437.81 500.02,437.09 500.65,436.34 501.27,435.54 501.9,434.7 502.52,433.81 503.15,432.88 503.77,431.91 504.4,430.89 505.02,429.83 505.65,428.72 506.27,427.57 506.9,426.38 507.52,425.15 508.15,423.87 508.77,422.56 509.4,421.21 510.02,419.82 510.65,418.4 511.27,416.94 511.9,415.46 512.52,413.95 513.15,412.42 513.77,410.86 514.4,409.28 515.02,407.69 515.65,406.09 516.27,404.47 516.9,402.84 517.52,401.22 518.15,399.58 518.77,397.95 519.4,396.33 520.02,394.71 520.64,393.09 521.27,391.49 521.89,389.91 522.52,388.34 523.14,386.78 523.77,385.25 524.39,383.74 525.02,382.25 525.64,380.79 526.27,379.35 526.89,377.94 527.52,376.56 528.14,375.21 528.77,373.89 529.39,372.6 530.02,371.34 530.64,370.11 531.27,368.91 531.89,367.75 532.52,366.61 533.14,365.51 533.77,364.44 534.39,363.4 535.02,362.39 535.64,361.42 536.27,360.47 536.89,359.55 537.52,358.67 538.14,357.81 538.77,356.97 539.39,356.17 540.02,355.39 540.64,354.64 541.27,353.92 541.89,353.22 542.52,352.54 543.14,351.89 543.77,351.26 544.39,350.66 545.02,350.07 545.64,349.51 546.27,348.96 546.89,348.44 547.52,347.93 548.14,347.44 548.77,346.97 549.39,346.52 550.02,346.08 550.64,345.66 551.27,345.26 551.89,344.87 552.52,344.49 553.14,344.13 553.77,343.78 554.39,343.44 555.02,343.11 555.64,342.8 556.27,342.5 556.89,342.21 557.52,341.93 558.14,341.66 558.76,341.4" fill="none" stroke="#fff000" stroke-width="1" stroke-linejoin="round"/>
<circle cx="487.79" cy="441.1" r="2.86" fill="#000" stroke="none" stroke-width="0"/>
<circle cx="487.79" cy="441.1" r="1.43" fill="none" stroke="#9a9a9a" stroke-width="0.5"/>
<circle cx="501.98" cy="437.71" r="2.86" fill="#000" stroke="none" stroke-width="0"/>
<circle cx="501.98" cy="437.71" r="1.43" fill="none" stroke="#9a9a9a" stroke-width="0.5"/>
<circle cx="516.18" cy="372.29" r="2.86" fill="#000" stroke="none" stroke-width="0"/>
<circle cx="516.18" cy="372.29" r="1.43" fill="none" stroke="#9a9a9a" stroke-width="0.5"/>
<circle cx="530.38" cy="333.6" r="2.86" fill="#000" stroke="none" stroke-width="0"/>
<circle cx="530.38" cy="333.6" r="1.43" fill="none" stroke="#9a9a9a" stroke-width="0.5"/>
<circle cx="544.57" cy="349.17" r="2.86" fill="#000" stroke="none" stroke-width="0"/>
<circle cx="544.57" cy="349.17" r="1.43" fill="none" stroke="#9a9a9a" stroke-width="0.5"/>
<circle cx="465.08" cy="442.34" r="1.77" fill="none" stroke="#ff8c00" stroke-width="1.22"/>
<circle cx="473.59" cy="439.63" r="1.77" fill="none" stroke="#ff8c00" stroke-width="1.22"/>
<circle cx="487.79" cy="405.12" r="1.77" fill="none" stroke="#ff8c00" stroke-width="1.22"/>
<circle cx="501.98" cy="333.6" r="1.77" fill="none" stroke="#ff8c00" stroke-width="1.22"/>
<circle cx="516.18" cy="352.55" r="1.77" fill="none" stroke="#ff8c00" stroke-width="1.22"/>
<circle cx="530.38" cy="375.67" r="1.77" fill="none" stroke="#ff8c00" stroke-width="1.22"/>
<line x1="485.34" y1="443.02" x2="490.24" y2="443.02" stroke="#a87c50" stroke-width="1.5"/>
<line x1="487.79" y1="440.57" x2="487.79" y2="445.46" stroke="#a87c50" stroke-width="1.5"/>
<line x1="499.54" y1="439.52" x2="504.43" y2="439.52" stroke="#a87c50" stroke-width="1.5"/>
<line x1="501.98" y1="437.07" x2="501.98" y2="441.97" stroke="#a87c50" stroke-width="1.5"/>
<line x1="513.73" y1="391.13" x2="518.63" y2="391.13" stroke="#a87c50" stroke-width="1.5"/>
<line x1="516.18" y1="388.68" x2="516.18" y2="393.58" stroke="#a87c50" stroke-width="1.5"/>
<line x1="527.93" y1="359.43" x2="532.82" y2="359.43" stroke="#a87c50" stroke-width="1.5"/>
<line x1="530.38" y1="356.98" x2="530.38" y2="361.88" stroke="#a87c50" stroke-width="1.5"/>
<line x1="542.12" y1="340.82" x2="547.02" y2="340.82" stroke="#a87c50" stroke-width="1.5"/>
<line x1="544.57" y1="338.37" x2="544.57" y2="343.27" stroke="#a87c50" stroke-width="1.5"/>
<line x1="556.32" y1="336.76" x2="561.21" y2="336.76" stroke="#a87c50" stroke-width="1.5"/>
<line x1="558.76" y1="334.31" x2="558.76" y2="339.21" stroke="#a87c50" stroke-width="1.5"/>
<line x1="570.51" y1="337.21" x2="575.41" y2="337.21" stroke="#a87c50" stroke-width="1.5"/>
<line x1="572.96" y1="334.76" x2="572.96" y2="339.66" stroke="#a87c50" stroke-width="1.5"/>
<polygon points="487.79,427.28 488.44,429.03 490.31,429.11 488.85,430.28 489.35,432.08 487.79,431.05 486.23,432.08 486.73,430.28 485.27,429.11 487.14,429.03" fill="#ff2a1a"/>
<polygon points="516.18,380.58 516.83,382.33 518.7,382.41 517.24,383.58 517.74,385.38 516.18,384.35 514.62,385.38 515.12,383.58 513.66,382.41 515.53,382.33" fill="#ff2a1a"/>
<polygon points="544.57,358.25 545.22,360 547.09,360.08 545.63,361.24 546.13,363.04 544.57,362.01 543.01,363.04 543.51,361.24 542.05,360.08 543.92,360" fill="#ff2a1a"/>
<polygon points="558.76,359.6 559.42,361.35 561.29,361.43 559.82,362.6 560.32,364.4 558.76,363.37 557.21,364.4 557.71,362.6 556.24,361.43 558.11,361.35" fill="#ff2a1a"/>
<polygon points="572.96,359.49 573.61,361.24 575.48,361.32 574.02,362.48 574.52,364.28 572.96,363.25 571.4,364.28 571.9,362.48 570.44,361.32 572.31,361.24" fill="#ff2a1a"/>
<polygon points="587.15,348.66 587.81,350.41 589.68,350.49 588.21,351.65 588.71,353.46 587.15,352.42 585.6,353.46 586.1,351.65 584.63,350.49 586.5,350.41" fill="#ff2a1a"/>
<polygon points="601.35,330.95 602,332.7 603.87,332.78 602.41,333.94 602.91,335.75 601.35,334.71 599.79,335.75 600.29,333.94 598.83,332.78 600.7,332.7" fill="#ff2a1a"/>
<circle cx="473.59" cy="433.99" r="2.45" fill="#0a32ff" stroke="none" stroke-width="0"/>
<circle cx="487.79" cy="419.33" r="2.45" fill="#0a32ff" stroke="none" stroke-width="0"/>
<circle cx="501.98" cy="375" r="2.45" fill="#0a32ff" stroke="none" stroke-width="0"/>
<circle cx="516.18" cy="333.6" r="2.45" fill="#0a32ff" stroke="none" stroke-width="0"/>
<circle cx="530.38" cy="341.04" r="2.45" fill="#0a32ff" stroke="none" stroke-width="0"/>
<circle cx="544.57" cy="366.31" r="2.45" fill="#0a32ff" stroke="none" stroke-width="0"/>
<circle cx="558.76" cy="366.99" r="2.45" fill="#0a32ff" stroke="none" stroke-width="0"/>
<polygon points="476.38,436.81 474.99,439.23 472.2,439.23 470.81,436.81 472.2,434.4 474.99,434.4" fill="#fff000"/>
<polygon points="490.58,435.12 489.18,437.53 486.4,437.53 485,435.12 486.4,432.71 489.18,432.71" fill="#fff000"/>
<polygon points="497.68,428.01 496.28,430.43 493.49,430.43 492.1,428.01 493.49,425.6 496.28,425.6" fill="#fff000"/>
<polygon points="504.77,426.89 503.38,429.3 500.59,429.3 499.2,426.89 500.59,424.47 503.38,424.47" fill="#fff000"/>
<polygon points="518.97,412.79 517.57,415.2 514.79,415.2 513.39,412.79 514.79,410.37 517.57,410.37" fill="#fff000"/>
<polygon points="533.16,385.94 531.77,388.35 528.98,388.35 527.59,385.94 528.98,383.52 531.77,383.52" fill="#fff000"/>
<polygon points="540.26,344.43 538.87,346.84 536.08,346.84 534.68,344.43 536.08,342.01 538.87,342.01" fill="#fff000"/>
<polygon points="547.36,333.6 545.96,336.01 543.18,336.01 541.78,333.6 543.18,331.19 545.96,331.19" fill="#fff000"/>
<polygon points="561.55,353.45 560.16,355.87 557.37,355.87 555.98,353.45 557.37,351.04 560.16,351.04" fill="#fff000"/>
<line x1="637.3" y1="314.4" x2="657.3" y2="314.4" stroke="#00ee00" stroke-width="1.2"/>
<rect x="643.7" y="310.9" width="7" height="7" fill="#00ee00"/>
<text x="667.2" y="319.6" font-size="9.3" text-anchor="start" fill="#222">HT1</text>
<line x1="637.3" y1="332.2" x2="657.3" y2="332.2" stroke="#ff44ff" stroke-width="1.2"/>
<polygon points="647.2,328.5 650.15,332.2 647.2,335.9 644.25,332.2" fill="#ff44ff"/>
<text x="667.2" y="337.1" font-size="9.3" text-anchor="start" fill="#222">HT2</text>
<line x1="637.3" y1="352.1" x2="657.3" y2="352.1" stroke="#8c288c" stroke-width="1.2"/>
<polygon points="643.5,348.86 650.9,348.86 647.2,356.06" fill="#8c288c"/>
<text x="667.2" y="356.7" font-size="9.3" text-anchor="start" fill="#222">HT3</text>
<line x1="637.3" y1="368.8" x2="657.3" y2="368.8" stroke="#fff000" stroke-width="1.2"/>
<polygon points="651.3,368.8 649.25,372.35 645.15,372.35 643.1,368.8 645.15,365.25 649.25,365.25" fill="#fff000"/>
<text x="667.2" y="372.6" font-size="9.3" text-anchor="start" fill="#222">HT4</text>
<line x1="637.3" y1="387.2" x2="657.3" y2="387.2" stroke="#0a32ff" stroke-width="1.2"/>
<circle cx="647.2" cy="387.2" r="3.6" fill="#0a32ff" stroke="none" stroke-width="0"/>
<text x="667.2" y="390.6" font-size="9.3" text-anchor="start" fill="#222">HT5</text>
<line x1="637.3" y1="405.1" x2="657.3" y2="405.1" stroke="#ff2a1a" stroke-width="1.2"/>
<polygon points="647.2,401.2 648.16,403.77 650.91,403.89 648.76,405.61 649.49,408.26 647.2,406.74 644.91,408.26 645.64,405.61 643.49,403.89 646.24,403.77" fill="#ff2a1a"/>
<text x="667.2" y="408.4" font-size="9.3" text-anchor="start" fill="#222">HT6</text>
<line x1="637.3" y1="423.9" x2="657.3" y2="423.9" stroke="#a87c50" stroke-width="1.2"/>
<line x1="643.6" y1="423.9" x2="650.8" y2="423.9" stroke="#a87c50" stroke-width="2"/>
<line x1="647.2" y1="420.3" x2="647.2" y2="427.5" stroke="#a87c50" stroke-width="2"/>
<text x="667.2" y="427.4" font-size="9.3" text-anchor="start" fill="#222">HT7</text>
<line x1="637.3" y1="441.4" x2="657.3" y2="441.4" stroke="#ff8c00" stroke-width="1.2"/>
<circle cx="647.2" cy="441.4" r="2.6" fill="none" stroke="#ff8c00" stroke-width="1.8"/>
<text x="667.2" y="444.8" font-size="9.3" text-anchor="start" fill="#222">HT8</text>
<line x1="637.3" y1="458.3" x2="657.3" y2="458.3" stroke="#000000" stroke-width="1.2"/>
<circle cx="647.2" cy="458.3" r="4.2" fill="#000" stroke="none" stroke-width="0"/>
<circle cx="647.2" cy="458.3" r="2.1" fill="none" stroke="#9a9a9a" stroke-width="0.67"/>
<text x="667.2" y="460.7" font-size="9.3" text-anchor="start" fill="#222">HT9</text>
</svg>
</body></html>
